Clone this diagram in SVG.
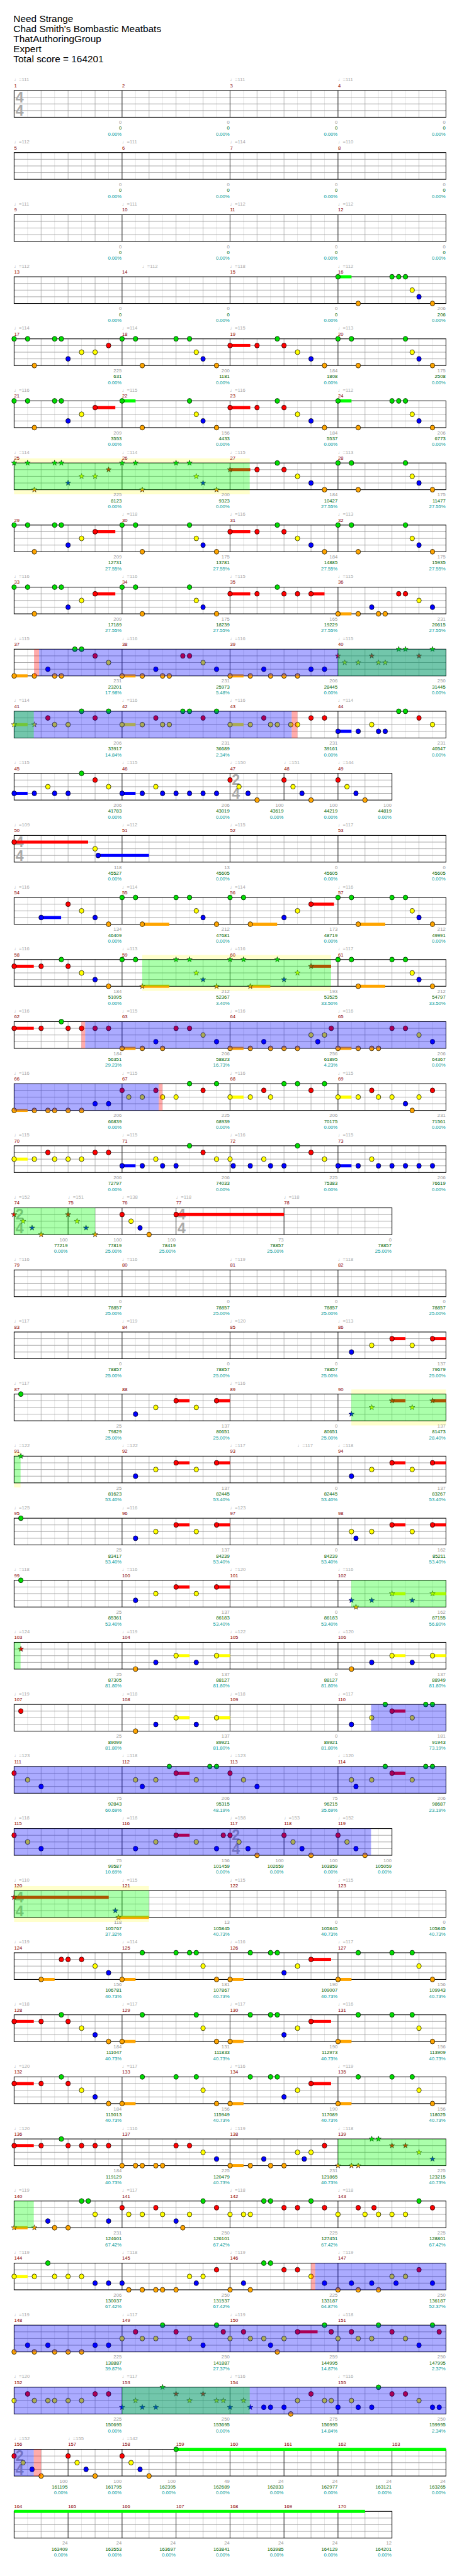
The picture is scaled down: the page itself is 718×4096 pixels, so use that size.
<svg xmlns="http://www.w3.org/2000/svg" width="718" height="4096" viewBox="0 0 718 4096">
<style>
text{font-family:"Liberation Sans",Arial,"DejaVu Sans",sans-serif}
.ti{font-size:22px;fill:#000}
.tp{font-size:11px;fill:#aaa}
.mn{font-size:11px;fill:#8b0000}
.p{font-size:11px;fill:#999;text-anchor:end}
.c{font-size:11px;fill:#006400;text-anchor:end}
.q{font-size:11px;fill:#009999;text-anchor:end}
.ts{font-size:33px;font-weight:bold;fill:#aaa}
.sg{fill:#0f0}.sr{fill:#f00}.sy{fill:#ff0}.sb{fill:#00f}.so{fill:#ffa500}
.ob{fill:#00f;fill-opacity:.33}.og{fill:#0f0;fill-opacity:.33}.op{fill:#f00;fill-opacity:.33}.yb{fill:#ffc}
</style>
<defs>
<ellipse id="G" rx="5.2" ry="5.6" fill="#0d0" stroke="#000"/>
<ellipse id="R" rx="5.2" ry="5.6" fill="#f00" stroke="#000"/>
<ellipse id="Y" rx="5.2" ry="5.6" fill="#ff0" stroke="#000"/>
<ellipse id="B" rx="5.2" ry="5.6" fill="#00f" stroke="#000"/>
<ellipse id="O" rx="5.2" ry="5.6" fill="#ffa500" stroke="#000"/>
<path id="SG" d="M0-6.5L1.53-2.1L6.18-2.01L2.47.8L3.82 5.26L0 2.6L-3.82 5.26L-2.47.8L-6.18-2.01L-1.53-2.1Z" fill="#0d0" stroke="#000" stroke-width=".7"/>
<path id="SR" d="M0-6.5L1.53-2.1L6.18-2.01L2.47.8L3.82 5.26L0 2.6L-3.82 5.26L-2.47.8L-6.18-2.01L-1.53-2.1Z" fill="#f00" stroke="#000" stroke-width=".7"/>
<path id="SY" d="M0-6.5L1.53-2.1L6.18-2.01L2.47.8L3.82 5.26L0 2.6L-3.82 5.26L-2.47.8L-6.18-2.01L-1.53-2.1Z" fill="#ff0" stroke="#000" stroke-width=".7"/>
<path id="SB" d="M0-6.5L1.53-2.1L6.18-2.01L2.47.8L3.82 5.26L0 2.6L-3.82 5.26L-2.47.8L-6.18-2.01L-1.53-2.1Z" fill="#00f" stroke="#000" stroke-width=".7"/>
<path id="SO" d="M0-6.5L1.53-2.1L6.18-2.01L2.47.8L3.82 5.26L0 2.6L-3.82 5.26L-2.47.8L-6.18-2.01L-1.53-2.1Z" fill="#ffa500" stroke="#000" stroke-width=".7"/>
<g id="gr64">
<path d="M62.6 0V60.67M123.9 0V60.67M185.1 0V60.67M246.4 0V60.67M307.6 0V60.67M368.9 0V60.67M430.1 0V60.67M491.4 0V60.67M552.6 0V60.67M613.9 0V60.67M675.1 0V60.67M736.4 0V60.67M797.6 0V60.67M858.9 0V60.67M920.1 0V60.67M981.4 0V60.67" stroke="#ddd"/>
<path d="M93.3 0V60.67M154.5 0V60.67M215.8 0V60.67M277 0V60.67M338.3 0V60.67M399.5 0V60.67M460.8 0V60.67M522 0V60.67M583.3 0V60.67M644.5 0V60.67M705.8 0V60.67M767 0V60.67M828.3 0V60.67M889.5 0V60.67M950.8 0V60.67" stroke="#999"/>
<path d="M32 15.17H1012M32 30.33H1012M32 45.5H1012" stroke="#999" stroke-width="1.2"/>
</g>
<g id="gr56">
<path d="M62.6 0V60.67M123.9 0V60.67M185.1 0V60.67M246.4 0V60.67M307.6 0V60.67M368.9 0V60.67M430.1 0V60.67M491.4 0V60.67M552.6 0V60.67M613.9 0V60.67M675.1 0V60.67M736.4 0V60.67M797.6 0V60.67M858.9 0V60.67" stroke="#ddd"/>
<path d="M93.3 0V60.67M154.5 0V60.67M215.8 0V60.67M277 0V60.67M338.3 0V60.67M399.5 0V60.67M460.8 0V60.67M522 0V60.67M583.3 0V60.67M644.5 0V60.67M705.8 0V60.67M767 0V60.67M828.3 0V60.67" stroke="#999"/>
<path d="M32 15.17H889.5M32 30.33H889.5M32 45.5H889.5" stroke="#999" stroke-width="1.2"/>
</g>
<g id="st4">
<use href="#gr64"/>
<path d="M277 0V60.67M522 0V60.67M767 0V60.67" stroke="#000"/>
<rect x="32" width="980" height="60.67" fill="none" stroke="#000" stroke-width="1.5"/>
</g>
</defs>
<rect width="718" height="4096" fill="#fff"/>
<g transform="scale(0.7)">
<g id="title" class="ti">
<text x="30.5" y="49.5">Need Strange</text>
<text x="30.5" y="72.5">Chad Smith's Bombastic Meatbats</text>
<text x="30.5" y="95.5">ThatAuthoringGroup</text>
<text x="30.5" y="118.5">Expert</text>
<text x="30.5" y="141.5">Total score = 164201</text>
</g>

<g id="row1" transform="translate(0,205.67)">
<use href="#st4"/>
<text class="ts" x="35.5" y="26.5">4</text><text class="ts" x="35.5" y="57.5">4</text>
<text class="tp" x="32" y="-20.7">♩=111</text><text class="tp" x="522" y="-20.7">♩=111</text><text class="tp" x="767" y="-20.7">♩=111</text>
<text class="mn" x="32" y="-7.3">1</text><text class="mn" x="277" y="-7.3">2</text><text class="mn" x="522" y="-7.3">3</text><text class="mn" x="767" y="-7.3">4</text>
<text class="p" x="276" y="76">0</text><text class="c" x="276" y="89.3">0</text><text class="q" x="276" y="102.7">0.00%</text>
<text class="p" x="521" y="76">0</text><text class="c" x="521" y="89.3">0</text><text class="q" x="521" y="102.7">0.00%</text>
<text class="p" x="766" y="76">0</text><text class="c" x="766" y="89.3">0</text><text class="q" x="766" y="102.7">0.00%</text>
<text class="p" x="1011" y="76">0</text><text class="c" x="1011" y="89.3">0</text><text class="q" x="1011" y="102.7">0.00%</text>
</g>

<g id="row2" transform="translate(0,346.67)">
<use href="#st4"/>
<text class="tp" x="32" y="-20.7">♩=112</text><text class="tp" x="277" y="-20.7">♩=111</text><text class="tp" x="522" y="-20.7">♩=114</text><text class="tp" x="767" y="-20.7">♩=110</text>
<text class="mn" x="32" y="-7.3">5</text><text class="mn" x="277" y="-7.3">6</text><text class="mn" x="522" y="-7.3">7</text><text class="mn" x="767" y="-7.3">8</text>
<text class="p" x="276" y="76">0</text><text class="c" x="276" y="89.3">0</text><text class="q" x="276" y="102.7">0.00%</text>
<text class="p" x="521" y="76">0</text><text class="c" x="521" y="89.3">0</text><text class="q" x="521" y="102.7">0.00%</text>
<text class="p" x="766" y="76">0</text><text class="c" x="766" y="89.3">0</text><text class="q" x="766" y="102.7">0.00%</text>
<text class="p" x="1011" y="76">0</text><text class="c" x="1011" y="89.3">0</text><text class="q" x="1011" y="102.7">0.00%</text>
</g>

<g id="row3" transform="translate(0,487.67)">
<use href="#st4"/>
<text class="tp" x="32" y="-20.7">♩=111</text><text class="tp" x="277" y="-20.7">♩=111</text><text class="tp" x="522" y="-20.7">♩=112</text><text class="tp" x="767" y="-20.7">♩=112</text>
<text class="mn" x="32" y="-7.3">9</text><text class="mn" x="277" y="-7.3">10</text><text class="mn" x="522" y="-7.3">11</text><text class="mn" x="767" y="-7.3">12</text>
<text class="p" x="276" y="76">0</text><text class="c" x="276" y="89.3">0</text><text class="q" x="276" y="102.7">0.00%</text>
<text class="p" x="521" y="76">0</text><text class="c" x="521" y="89.3">0</text><text class="q" x="521" y="102.7">0.00%</text>
<text class="p" x="766" y="76">0</text><text class="c" x="766" y="89.3">0</text><text class="q" x="766" y="102.7">0.00%</text>
<text class="p" x="1011" y="76">0</text><text class="c" x="1011" y="89.3">0</text><text class="q" x="1011" y="102.7">0.00%</text>
</g>

<g id="row4" transform="translate(0,628.67)">
<use href="#st4"/>
<text class="tp" x="32" y="-20.7">♩=112</text><text class="tp" x="322.9" y="-20.7">♩=112</text><text class="tp" x="522" y="-20.7">♩=118</text><text class="tp" x="767" y="-20.7">♩=112</text>
<text class="mn" x="32" y="-7.3">13</text><text class="mn" x="277" y="-7.3">14</text><text class="mn" x="522" y="-7.3">15</text><text class="mn" x="767" y="-7.3">16</text>
<text class="p" x="276" y="76">0</text><text class="c" x="276" y="89.3">0</text><text class="q" x="276" y="102.7">0.00%</text>
<text class="p" x="521" y="76">0</text><text class="c" x="521" y="89.3">0</text><text class="q" x="521" y="102.7">0.00%</text>
<text class="p" x="766" y="76">0</text><text class="c" x="766" y="89.3">0</text><text class="q" x="766" y="102.7">0.00%</text>
<text class="p" x="1011" y="76">206</text><text class="c" x="1011" y="89.3">206</text><text class="q" x="1011" y="102.7">0.00%</text>
<g><rect class="sg" x="767" y="-3.5" width="30.6" height="7"/><use href="#G" x="767"/><use href="#G" x="889.5"/><use href="#G" x="904.8"/><use href="#G" x="920.1"/></g>
<g transform="translate(0,30.33)"><use href="#Y" x="935.4"/></g>
<g transform="translate(0,45.5)"><use href="#B" x="950.8"/></g>
<g transform="translate(0,60.67)"><use href="#O" x="812.9"/><use href="#O" x="981.4"/></g>
</g>

<g id="row5" transform="translate(0,769.67)">
<use href="#st4"/>
<text class="tp" x="32" y="-20.7">♩=114</text><text class="tp" x="277" y="-20.7">♩=114</text><text class="tp" x="522" y="-20.7">♩=115</text><text class="tp" x="767" y="-20.7">♩=113</text>
<text class="mn" x="32" y="-7.3">17</text><text class="mn" x="277" y="-7.3">18</text><text class="mn" x="522" y="-7.3">19</text><text class="mn" x="767" y="-7.3">20</text>
<text class="p" x="276" y="76">225</text><text class="c" x="276" y="89.3">631</text><text class="q" x="276" y="102.7">0.00%</text>
<text class="p" x="521" y="76">200</text><text class="c" x="521" y="89.3">1181</text><text class="q" x="521" y="102.7">0.00%</text>
<text class="p" x="766" y="76">184</text><text class="c" x="766" y="89.3">1808</text><text class="q" x="766" y="102.7">0.00%</text>
<text class="p" x="1011" y="76">175</text><text class="c" x="1011" y="89.3">2508</text><text class="q" x="1011" y="102.7">0.00%</text>
<g><use href="#G" x="32"/><use href="#G" x="62.6"/><use href="#G" x="123.9"/><use href="#G" x="139.2"/><use href="#G" x="277"/><use href="#G" x="307.6"/><use href="#G" x="399.5"/><use href="#G" x="430.1"/><use href="#G" x="629.2"/><use href="#G" x="767"/><use href="#G" x="797.6"/><use href="#G" x="920.1"/></g>
<g transform="translate(0,15.17)"><rect class="sr" x="522" y="-3.5" width="45.9" height="7"/><use href="#R" x="246.4"/><use href="#R" x="522"/><use href="#R" x="583.3"/><use href="#R" x="644.5"/></g>
<g transform="translate(0,30.33)"><use href="#Y" x="185.1"/><use href="#Y" x="215.8"/><use href="#Y" x="445.4"/><use href="#Y" x="675.1"/><use href="#Y" x="935.4"/></g>
<g transform="translate(0,45.5)"><use href="#B" x="154.5"/><use href="#B" x="460.8"/><use href="#B" x="705.8"/><use href="#B" x="950.8"/></g>
<g transform="translate(0,60.67)"><use href="#O" x="77.9"/><use href="#O" x="322.9"/><use href="#O" x="491.4"/><use href="#O" x="736.4"/><use href="#O" x="812.9"/><use href="#O" x="981.4"/></g>
</g>

<g id="row6" transform="translate(0,910.67)">
<use href="#st4"/>
<text class="tp" x="32" y="-20.7">♩=116</text><text class="tp" x="277" y="-20.7">♩=115</text><text class="tp" x="522" y="-20.7">♩=116</text><text class="tp" x="767" y="-20.7">♩=112</text>
<text class="mn" x="32" y="-7.3">21</text><text class="mn" x="277" y="-7.3">22</text><text class="mn" x="522" y="-7.3">23</text><text class="mn" x="767" y="-7.3">24</text>
<text class="p" x="276" y="76">209</text><text class="c" x="276" y="89.3">3553</text><text class="q" x="276" y="102.7">0.00%</text>
<text class="p" x="521" y="76">156</text><text class="c" x="521" y="89.3">4433</text><text class="q" x="521" y="102.7">0.00%</text>
<text class="p" x="766" y="76">184</text><text class="c" x="766" y="89.3">5537</text><text class="q" x="766" y="102.7">0.00%</text>
<text class="p" x="1011" y="76">206</text><text class="c" x="1011" y="89.3">6773</text><text class="q" x="1011" y="102.7">0.00%</text>
<g><rect class="sg" x="277" y="-3.5" width="30.6" height="7"/><rect class="sg" x="767" y="-3.5" width="30.6" height="7"/><use href="#G" x="32"/><use href="#G" x="62.6"/><use href="#G" x="123.9"/><use href="#G" x="139.2"/><use href="#G" x="277"/><use href="#G" x="430.1"/><use href="#G" x="629.2"/><use href="#G" x="767"/><use href="#G" x="889.5"/><use href="#G" x="904.8"/><use href="#G" x="920.1"/></g>
<g transform="translate(0,15.17)"><rect class="sr" x="215.8" y="-3.5" width="45.9" height="7"/><rect class="sr" x="522" y="-3.5" width="45.9" height="7"/><use href="#R" x="215.8"/><use href="#R" x="522"/><use href="#R" x="583.3"/><use href="#R" x="644.5"/></g>
<g transform="translate(0,30.33)"><use href="#Y" x="185.1"/><use href="#Y" x="445.4"/><use href="#Y" x="675.1"/><use href="#Y" x="935.4"/></g>
<g transform="translate(0,45.5)"><use href="#B" x="154.5"/><use href="#B" x="460.8"/><use href="#B" x="705.8"/><use href="#B" x="950.8"/></g>
<g transform="translate(0,60.67)"><use href="#O" x="77.9"/><use href="#O" x="322.9"/><use href="#O" x="491.4"/><use href="#O" x="736.4"/><use href="#O" x="812.9"/><use href="#O" x="981.4"/></g>
</g>

<g id="row7" transform="translate(0,1051.67)">
<rect class="yb" x="32" y="-10.5" width="534.7" height="10.5"/><rect class="yb" x="32" y="60.67" width="534.7" height="10.5"/>
<use href="#st4"/>
<text class="tp" x="32" y="-20.7">♩=114</text><text class="tp" x="277" y="-20.7">♩=114</text><text class="tp" x="522" y="-20.7">♩=115</text><text class="tp" x="767" y="-20.7">♩=113</text>
<text class="mn" x="32" y="-7.3">25</text><text class="mn" x="277" y="-7.3">26</text><text class="mn" x="522" y="-7.3">27</text><text class="mn" x="767" y="-7.3">28</text>
<text class="p" x="276" y="76">225</text><text class="c" x="276" y="89.3">8123</text><text class="q" x="276" y="102.7">0.00%</text>
<text class="p" x="521" y="76">200</text><text class="c" x="521" y="89.3">9323</text><text class="q" x="521" y="102.7">0.00%</text>
<text class="p" x="766" y="76">184</text><text class="c" x="766" y="89.3">10427</text><text class="q" x="766" y="102.7">27.55%</text>
<text class="p" x="1011" y="76">175</text><text class="c" x="1011" y="89.3">11477</text><text class="q" x="1011" y="102.7">27.55%</text>
<g><use href="#SG" x="32"/><use href="#SG" x="62.6"/><use href="#SG" x="123.9"/><use href="#SG" x="139.2"/><use href="#SG" x="277"/><use href="#SG" x="307.6"/><use href="#SG" x="399.5"/><use href="#SG" x="430.1"/><use href="#G" x="629.2"/><use href="#G" x="767"/><use href="#G" x="797.6"/><use href="#G" x="920.1"/></g>
<g transform="translate(0,15.17)"><rect class="sr" x="522" y="-3.5" width="45.9" height="7"/><use href="#SR" x="246.4"/><use href="#SR" x="522"/><use href="#R" x="583.3"/><use href="#R" x="644.5"/></g>
<g transform="translate(0,30.33)"><use href="#SY" x="185.1"/><use href="#SY" x="215.8"/><use href="#SY" x="445.4"/><use href="#Y" x="675.1"/><use href="#Y" x="935.4"/></g>
<g transform="translate(0,45.5)"><use href="#SB" x="154.5"/><use href="#SB" x="460.8"/><use href="#B" x="705.8"/><use href="#B" x="950.8"/></g>
<g transform="translate(0,60.67)"><use href="#SO" x="77.9"/><use href="#SO" x="322.9"/><use href="#SO" x="491.4"/><use href="#O" x="736.4"/><use href="#O" x="812.9"/><use href="#O" x="981.4"/></g>
<rect class="og" x="32" y="0" width="534.7" height="60.67"/>
</g>

<g id="row8" transform="translate(0,1192.67)">
<use href="#st4"/>
<text class="tp" x="277" y="-20.7">♩=118</text><text class="tp" x="522" y="-20.7">♩=116</text><text class="tp" x="767" y="-20.7">♩=113</text>
<text class="mn" x="32" y="-7.3">29</text><text class="mn" x="277" y="-7.3">30</text><text class="mn" x="522" y="-7.3">31</text><text class="mn" x="767" y="-7.3">32</text>
<text class="p" x="276" y="76">209</text><text class="c" x="276" y="89.3">12731</text><text class="q" x="276" y="102.7">27.55%</text>
<text class="p" x="521" y="76">175</text><text class="c" x="521" y="89.3">13781</text><text class="q" x="521" y="102.7">27.55%</text>
<text class="p" x="766" y="76">184</text><text class="c" x="766" y="89.3">14885</text><text class="q" x="766" y="102.7">27.55%</text>
<text class="p" x="1011" y="76">175</text><text class="c" x="1011" y="89.3">15935</text><text class="q" x="1011" y="102.7">27.55%</text>
<g><use href="#G" x="32"/><use href="#G" x="62.6"/><use href="#G" x="123.9"/><use href="#G" x="139.2"/><use href="#G" x="277"/><use href="#G" x="307.6"/><use href="#G" x="430.1"/><use href="#G" x="629.2"/><use href="#G" x="767"/><use href="#G" x="797.6"/><use href="#G" x="920.1"/></g>
<g transform="translate(0,15.17)"><rect class="sr" x="215.8" y="-3.5" width="45.9" height="7"/><rect class="sr" x="522" y="-3.5" width="45.9" height="7"/><use href="#R" x="215.8"/><use href="#R" x="522"/><use href="#R" x="583.3"/><use href="#R" x="644.5"/></g>
<g transform="translate(0,30.33)"><use href="#Y" x="185.1"/><use href="#Y" x="445.4"/><use href="#Y" x="675.1"/><use href="#Y" x="935.4"/></g>
<g transform="translate(0,45.5)"><use href="#B" x="154.5"/><use href="#B" x="460.8"/><use href="#B" x="705.8"/><use href="#B" x="950.8"/></g>
<g transform="translate(0,60.67)"><use href="#O" x="77.9"/><use href="#O" x="322.9"/><use href="#O" x="491.4"/><use href="#O" x="736.4"/><use href="#O" x="812.9"/><use href="#O" x="981.4"/></g>
</g>

<g id="row9" transform="translate(0,1333.67)">
<use href="#st4"/>
<text class="tp" x="32" y="-20.7">♩=116</text><text class="tp" x="277" y="-20.7">♩=116</text><text class="tp" x="522" y="-20.7">♩=115</text><text class="tp" x="767" y="-20.7">♩=115</text>
<text class="mn" x="32" y="-7.3">33</text><text class="mn" x="277" y="-7.3">34</text><text class="mn" x="522" y="-7.3">35</text><text class="mn" x="767" y="-7.3">36</text>
<text class="p" x="276" y="76">209</text><text class="c" x="276" y="89.3">17189</text><text class="q" x="276" y="102.7">27.55%</text>
<text class="p" x="521" y="76">175</text><text class="c" x="521" y="89.3">18239</text><text class="q" x="521" y="102.7">27.55%</text>
<text class="p" x="766" y="76">165</text><text class="c" x="766" y="89.3">19229</text><text class="q" x="766" y="102.7">27.55%</text>
<text class="p" x="1011" y="76">231</text><text class="c" x="1011" y="89.3">20615</text><text class="q" x="1011" y="102.7">27.55%</text>
<g><use href="#G" x="32"/><use href="#G" x="62.6"/><use href="#G" x="123.9"/><use href="#G" x="139.2"/><use href="#G" x="277"/><use href="#G" x="307.6"/><use href="#G" x="430.1"/><use href="#G" x="629.2"/></g>
<g transform="translate(0,15.17)"><rect class="sr" x="215.8" y="-3.5" width="45.9" height="7"/><rect class="sr" x="522" y="-3.5" width="45.9" height="7"/><rect class="sr" x="705.8" y="-3.5" width="30.6" height="7"/><use href="#R" x="215.8"/><use href="#R" x="522"/><use href="#R" x="583.3"/><use href="#R" x="644.5"/><use href="#R" x="675.1"/><use href="#R" x="705.8"/><use href="#R" x="904.8"/><use href="#R" x="920.1"/></g>
<g transform="translate(0,30.33)"><use href="#Y" x="185.1"/><use href="#Y" x="445.4"/><use href="#Y" x="950.8"/></g>
<g transform="translate(0,45.5)"><use href="#B" x="154.5"/><use href="#B" x="460.8"/><use href="#B" x="843.6"/><use href="#B" x="981.4"/></g>
<g transform="translate(0,60.67)"><rect class="so" x="767" y="-3.5" width="30.6" height="7"/><use href="#O" x="77.9"/><use href="#O" x="322.9"/><use href="#O" x="491.4"/><use href="#O" x="767"/><use href="#O" x="812.9"/><use href="#O" x="858.9"/><use href="#O" x="874.2"/></g>
</g>

<g id="row10" transform="translate(0,1474.67)">
<use href="#st4"/>
<text class="tp" x="32" y="-20.7">♩=115</text><text class="tp" x="277" y="-20.7">♩=116</text><text class="tp" x="522" y="-20.7">♩=116</text><text class="tp" x="767" y="-20.7">♩=115</text>
<text class="mn" x="32" y="-7.3">37</text><text class="mn" x="277" y="-7.3">38</text><text class="mn" x="522" y="-7.3">39</text><text class="mn" x="767" y="-7.3">40</text>
<text class="p" x="276" y="76">231</text><text class="c" x="276" y="89.3">23201</text><text class="q" x="276" y="102.7">17.98%</text>
<text class="p" x="521" y="76">231</text><text class="c" x="521" y="89.3">25973</text><text class="q" x="521" y="102.7">5.48%</text>
<text class="p" x="766" y="76">206</text><text class="c" x="766" y="89.3">28445</text><text class="q" x="766" y="102.7">0.00%</text>
<text class="p" x="1011" y="76">250</text><text class="c" x="1011" y="89.3">31445</text><text class="q" x="1011" y="102.7">0.00%</text>
<g><use href="#G" x="169.8"/><use href="#G" x="185.1"/><use href="#SG" x="904.8"/><use href="#SG" x="920.1"/><use href="#SG" x="981.4"/></g>
<g transform="translate(0,15.17)"><use href="#R" x="215.8"/><use href="#R" x="414.8"/><use href="#R" x="430.1"/><use href="#SR" x="767"/><use href="#SR" x="843.6"/><use href="#SR" x="950.8"/></g>
<g transform="translate(0,30.33)"><use href="#Y" x="246.4"/><use href="#Y" x="460.8"/><use href="#SY" x="782.3"/><use href="#SY" x="812.9"/><use href="#SY" x="858.9"/><use href="#SY" x="874.2"/></g>
<g transform="translate(0,45.5)"><use href="#B" x="108.6"/><use href="#B" x="353.6"/><use href="#B" x="491.4"/><use href="#B" x="598.6"/><use href="#B" x="705.8"/><use href="#B" x="736.4"/></g>
<g transform="translate(0,60.67)"><rect class="so" x="32" y="-3.5" width="30.6" height="7"/><rect class="so" x="277" y="-3.5" width="30.6" height="7"/><rect class="so" x="522" y="-3.5" width="30.6" height="7"/><use href="#O" x="32"/><use href="#O" x="77.9"/><use href="#O" x="123.9"/><use href="#O" x="139.2"/><use href="#O" x="277"/><use href="#O" x="322.9"/><use href="#O" x="368.9"/><use href="#O" x="384.2"/><use href="#O" x="522"/><use href="#O" x="567.9"/><use href="#O" x="613.9"/><use href="#O" x="644.5"/><use href="#O" x="675.1"/></g>
<rect class="op" x="77.3" y="0" width="11.4" height="60.67"/>
<rect class="ob" x="88.7" y="0" width="923.3" height="60.67"/>
<rect class="og" x="767" y="0" width="245" height="60.67"/>
</g>

<g id="row11" transform="translate(0,1615.67)">
<use href="#st4"/>
<text class="tp" x="32" y="-20.7">♩=114</text><text class="tp" x="277" y="-20.7">♩=116</text><text class="tp" x="522" y="-20.7">♩=116</text><text class="tp" x="767" y="-20.7">♩=114</text>
<text class="mn" x="32" y="-7.3">41</text><text class="mn" x="277" y="-7.3">42</text><text class="mn" x="522" y="-7.3">43</text><text class="mn" x="767" y="-7.3">44</text>
<text class="p" x="276" y="76">206</text><text class="c" x="276" y="89.3">33917</text><text class="q" x="276" y="102.7">14.84%</text>
<text class="p" x="521" y="76">231</text><text class="c" x="521" y="89.3">36689</text><text class="q" x="521" y="102.7">2.34%</text>
<text class="p" x="766" y="76">231</text><text class="c" x="766" y="89.3">39161</text><text class="q" x="766" y="102.7">0.00%</text>
<text class="p" x="1011" y="76">231</text><text class="c" x="1011" y="89.3">40547</text><text class="q" x="1011" y="102.7">0.00%</text>
<g><use href="#G" x="185.1"/><use href="#G" x="246.4"/><use href="#G" x="414.8"/><use href="#G" x="430.1"/><use href="#G" x="491.4"/><use href="#G" x="904.8"/><use href="#G" x="920.1"/></g>
<g transform="translate(0,15.17)"><use href="#R" x="108.6"/><use href="#R" x="215.8"/><use href="#R" x="353.6"/><use href="#R" x="460.8"/><use href="#R" x="598.6"/><use href="#R" x="705.8"/><use href="#R" x="736.4"/><use href="#R" x="950.8"/></g>
<g transform="translate(0,30.33)"><rect class="sy" x="32" y="-3.5" width="30.6" height="7"/><rect class="sy" x="277" y="-3.5" width="30.6" height="7"/><rect class="sy" x="522" y="-3.5" width="30.6" height="7"/><use href="#SY" x="32"/><use href="#SY" x="77.9"/><use href="#Y" x="123.9"/><use href="#Y" x="154.5"/><use href="#Y" x="277"/><use href="#Y" x="322.9"/><use href="#Y" x="368.9"/><use href="#Y" x="384.2"/><use href="#Y" x="522"/><use href="#Y" x="567.9"/><use href="#Y" x="613.9"/><use href="#Y" x="629.2"/><use href="#Y" x="659.8"/><use href="#Y" x="675.1"/><use href="#Y" x="843.6"/><use href="#Y" x="981.4"/></g>
<g transform="translate(0,45.5)"><rect class="sb" x="767" y="-3.5" width="30.6" height="7"/><use href="#B" x="767"/><use href="#B" x="812.9"/><use href="#B" x="858.9"/><use href="#B" x="874.2"/></g>
<rect class="ob" x="32" y="0" width="630" height="60.67"/>
<rect class="op" x="662" y="0" width="13" height="60.67"/>
<rect class="og" x="32" y="0" width="44.7" height="60.67"/>
</g>

<g id="row12" transform="translate(0,1756.67)">
<use href="#gr56"/>
<path d="M277 0V60.67M522 0V60.67M644.5 0V60.67M767 0V60.67" stroke="#000"/>
<rect x="32" width="857.5" height="60.67" fill="none" stroke="#000" stroke-width="1.5"/>
<text class="ts" x="526" y="26.5">2</text><text class="ts" x="526" y="57.5">4</text>
<text class="tp" x="32" y="-20.7">♩=115</text><text class="tp" x="277" y="-20.7">♩=115</text><text class="tp" x="522" y="-20.7">♩=150</text><text class="tp" x="644.5" y="-20.7">♩=151</text><text class="tp" x="767" y="-20.7">♩=144</text>
<text class="mn" x="32" y="-7.3">45</text><text class="mn" x="277" y="-7.3">46</text><text class="mn" x="522" y="-7.3">47</text><text class="mn" x="644.5" y="-7.3">48</text><text class="mn" x="767" y="-7.3">49</text>
<text class="p" x="276" y="76">206</text><text class="c" x="276" y="89.3">41783</text><text class="q" x="276" y="102.7">0.00%</text>
<text class="p" x="521" y="76">206</text><text class="c" x="521" y="89.3">43019</text><text class="q" x="521" y="102.7">0.00%</text>
<text class="p" x="643.5" y="76">100</text><text class="c" x="643.5" y="89.3">43619</text><text class="q" x="643.5" y="102.7">0.00%</text>
<text class="p" x="766" y="76">100</text><text class="c" x="766" y="89.3">44219</text><text class="q" x="766" y="102.7">0.00%</text>
<text class="p" x="888.5" y="76">100</text><text class="c" x="888.5" y="89.3">44819</text><text class="q" x="888.5" y="102.7">0.00%</text>
<g><use href="#G" x="185.1"/></g>
<g transform="translate(0,15.17)"><use href="#R" x="215.8"/><use href="#R" x="522"/><use href="#R" x="644.5"/><use href="#R" x="767"/></g>
<g transform="translate(0,30.33)"><use href="#Y" x="108.6"/><use href="#Y" x="246.4"/><use href="#Y" x="353.6"/><use href="#Y" x="542.4"/><use href="#Y" x="664.9"/><use href="#Y" x="787.4"/></g>
<g transform="translate(0,45.5)"><rect class="sb" x="32" y="-3.5" width="30.6" height="7"/><rect class="sb" x="277" y="-3.5" width="30.6" height="7"/><use href="#B" x="32"/><use href="#B" x="77.9"/><use href="#B" x="123.9"/><use href="#B" x="154.5"/><use href="#B" x="277"/><use href="#B" x="322.9"/><use href="#B" x="368.9"/><use href="#B" x="399.5"/><use href="#B" x="430.1"/><use href="#B" x="460.8"/><use href="#B" x="491.4"/><use href="#B" x="562.8"/><use href="#B" x="685.3"/><use href="#B" x="807.8"/></g>
<g transform="translate(0,60.67)"><use href="#O" x="583.3"/><use href="#O" x="705.8"/><use href="#O" x="828.3"/></g>
</g>

<g id="row13" transform="translate(0,1897.67)">
<use href="#st4"/>
<text class="ts" x="35.5" y="26.5">4</text><text class="ts" x="35.5" y="57.5">4</text>
<text class="tp" x="32" y="-20.7">♩=109</text><text class="tp" x="277" y="-20.7">♩=112</text><text class="tp" x="522" y="-20.7">♩=115</text><text class="tp" x="767" y="-20.7">♩=117</text>
<text class="mn" x="32" y="-7.3">50</text><text class="mn" x="277" y="-7.3">51</text><text class="mn" x="522" y="-7.3">52</text><text class="mn" x="767" y="-7.3">53</text>
<text class="p" x="276" y="76">118</text><text class="c" x="276" y="89.3">45527</text><text class="q" x="276" y="102.7">0.00%</text>
<text class="p" x="521" y="76">13</text><text class="c" x="521" y="89.3">45605</text><text class="q" x="521" y="102.7">0.00%</text>
<text class="p" x="766" y="76">0</text><text class="c" x="766" y="89.3">45605</text><text class="q" x="766" y="102.7">0.00%</text>
<text class="p" x="1011" y="76">0</text><text class="c" x="1011" y="89.3">45605</text><text class="q" x="1011" y="102.7">0.00%</text>
<g transform="translate(0,15.17)"><rect class="sr" x="32" y="-3.5" width="168" height="7"/><use href="#R" x="32"/></g>
<g transform="translate(0,30.33)"><use href="#Y" x="215.8"/></g>
<g transform="translate(0,45.5)"><rect class="sb" x="222.7" y="-3.5" width="115.3" height="7"/><use href="#B" x="222.7"/></g>
</g>

<g id="row14" transform="translate(0,2038.67)">
<use href="#st4"/>
<text class="tp" x="32" y="-20.7">♩=116</text><text class="tp" x="277" y="-20.7">♩=114</text><text class="tp" x="522" y="-20.7">♩=114</text><text class="tp" x="767" y="-20.7">♩=116</text>
<text class="mn" x="32" y="-7.3">54</text><text class="mn" x="277" y="-7.3">55</text><text class="mn" x="522" y="-7.3">56</text><text class="mn" x="767" y="-7.3">57</text>
<text class="p" x="276" y="76">134</text><text class="c" x="276" y="89.3">46409</text><text class="q" x="276" y="102.7">0.00%</text>
<text class="p" x="521" y="76">212</text><text class="c" x="521" y="89.3">47681</text><text class="q" x="521" y="102.7">0.00%</text>
<text class="p" x="766" y="76">173</text><text class="c" x="766" y="89.3">48719</text><text class="q" x="766" y="102.7">0.00%</text>
<text class="p" x="1011" y="76">212</text><text class="c" x="1011" y="89.3">49991</text><text class="q" x="1011" y="102.7">0.00%</text>
<g><use href="#G" x="277"/><use href="#G" x="307.6"/><use href="#G" x="399.5"/><use href="#G" x="430.1"/><use href="#G" x="522"/><use href="#G" x="552.6"/><use href="#G" x="767"/><use href="#G" x="797.6"/><use href="#G" x="889.5"/><use href="#G" x="920.1"/></g>
<g transform="translate(0,15.17)"><rect class="sr" x="705.8" y="-3.5" width="52.2" height="7"/><use href="#R" x="154.5"/><use href="#R" x="705.8"/></g>
<g transform="translate(0,30.33)"><use href="#Y" x="185.1"/><use href="#Y" x="445.4"/><use href="#Y" x="675.1"/><use href="#Y" x="935.4"/></g>
<g transform="translate(0,45.5)"><rect class="sb" x="93.3" y="-3.5" width="45.4" height="7"/><use href="#B" x="93.3"/><use href="#B" x="215.8"/><use href="#B" x="460.8"/><use href="#B" x="644.5"/><use href="#B" x="950.8"/></g>
<g transform="translate(0,60.67)"><rect class="so" x="322.9" y="-3.5" width="61.3" height="7"/><rect class="so" x="567.9" y="-3.5" width="61" height="7"/><rect class="so" x="812.9" y="-3.5" width="61.3" height="7"/><use href="#O" x="246.4"/><use href="#O" x="322.9"/><use href="#O" x="491.4"/><use href="#O" x="567.9"/><use href="#O" x="812.9"/><use href="#O" x="981.4"/></g>
</g>

<g id="row15" transform="translate(0,2179.67)">
<rect class="yb" x="322.7" y="-10.5" width="428.6" height="10.5"/><rect class="yb" x="322.7" y="60.67" width="428.6" height="10.5"/>
<use href="#st4"/>
<text class="tp" x="32" y="-20.7">♩=116</text><text class="tp" x="277" y="-20.7">♩=113</text><text class="tp" x="522" y="-20.7">♩=116</text><text class="tp" x="767" y="-20.7">♩=117</text>
<text class="mn" x="32" y="-7.3">58</text><text class="mn" x="277" y="-7.3">59</text><text class="mn" x="522" y="-7.3">60</text><text class="mn" x="767" y="-7.3">61</text>
<text class="p" x="276" y="76">184</text><text class="c" x="276" y="89.3">51095</text><text class="q" x="276" y="102.7">0.00%</text>
<text class="p" x="521" y="76">212</text><text class="c" x="521" y="89.3">52367</text><text class="q" x="521" y="102.7">3.40%</text>
<text class="p" x="766" y="76">193</text><text class="c" x="766" y="89.3">53525</text><text class="q" x="766" y="102.7">33.50%</text>
<text class="p" x="1011" y="76">212</text><text class="c" x="1011" y="89.3">54797</text><text class="q" x="1011" y="102.7">33.50%</text>
<g><use href="#G" x="139.2"/><use href="#G" x="277"/><use href="#G" x="307.6"/><use href="#SG" x="399.5"/><use href="#SG" x="430.1"/><use href="#SG" x="522"/><use href="#SG" x="552.6"/><use href="#SG" x="629.2"/><use href="#G" x="767"/><use href="#G" x="797.6"/><use href="#G" x="889.5"/><use href="#G" x="920.1"/></g>
<g transform="translate(0,15.17)"><rect class="sr" x="32" y="-3.5" width="44.7" height="7"/><rect class="sr" x="705.8" y="-3.5" width="45.5" height="7"/><use href="#R" x="32"/><use href="#R" x="93.3"/><use href="#R" x="154.5"/><use href="#SR" x="705.8"/></g>
<g transform="translate(0,30.33)"><use href="#Y" x="185.1"/><use href="#SY" x="445.4"/><use href="#SY" x="675.1"/><use href="#Y" x="935.4"/></g>
<g transform="translate(0,45.5)"><use href="#B" x="215.8"/><use href="#SB" x="460.8"/><use href="#SB" x="644.5"/><use href="#B" x="950.8"/></g>
<g transform="translate(0,60.67)"><rect class="so" x="322.9" y="-3.5" width="61.3" height="7"/><rect class="so" x="567.9" y="-3.5" width="45.4" height="7"/><rect class="so" x="812.9" y="-3.5" width="61.3" height="7"/><use href="#O" x="246.4"/><use href="#SO" x="322.9"/><use href="#SO" x="491.4"/><use href="#SO" x="567.9"/><use href="#O" x="812.9"/><use href="#O" x="981.4"/></g>
<rect class="og" x="322.7" y="0" width="428.6" height="60.67"/>
</g>

<g id="row16" transform="translate(0,2320.67)">
<use href="#st4"/>
<text class="tp" x="32" y="-20.7">♩=116</text><text class="tp" x="277" y="-20.7">♩=115</text><text class="tp" x="522" y="-20.7">♩=116</text><text class="tp" x="767" y="-20.7">♩=116</text>
<text class="mn" x="32" y="-7.3">62</text><text class="mn" x="277" y="-7.3">63</text><text class="mn" x="522" y="-7.3">64</text><text class="mn" x="767" y="-7.3">65</text>
<text class="p" x="276" y="76">184</text><text class="c" x="276" y="89.3">56351</text><text class="q" x="276" y="102.7">29.23%</text>
<text class="p" x="521" y="76">206</text><text class="c" x="521" y="89.3">58823</text><text class="q" x="521" y="102.7">16.73%</text>
<text class="p" x="766" y="76">256</text><text class="c" x="766" y="89.3">61895</text><text class="q" x="766" y="102.7">4.23%</text>
<text class="p" x="1011" y="76">206</text><text class="c" x="1011" y="89.3">64367</text><text class="q" x="1011" y="102.7">0.00%</text>
<g><use href="#G" x="139.2"/></g>
<g transform="translate(0,15.17)"><rect class="sr" x="32" y="-3.5" width="44.7" height="7"/><use href="#R" x="32"/><use href="#R" x="93.3"/><use href="#R" x="154.5"/><use href="#R" x="185.1"/><use href="#R" x="215.8"/><use href="#R" x="246.4"/><use href="#R" x="399.5"/><use href="#R" x="430.1"/><use href="#R" x="751.7"/><use href="#R" x="889.5"/><use href="#R" x="920.1"/></g>
<g transform="translate(0,30.33)"><use href="#Y" x="460.8"/><use href="#Y" x="705.8"/><use href="#Y" x="736.4"/><use href="#Y" x="950.8"/></g>
<g transform="translate(0,45.5)"><use href="#B" x="353.6"/><use href="#B" x="491.4"/><use href="#B" x="598.6"/><use href="#B" x="721.1"/><use href="#B" x="981.4"/></g>
<g transform="translate(0,60.67)"><rect class="so" x="277" y="-3.5" width="30.6" height="7"/><rect class="so" x="522" y="-3.5" width="30.6" height="7"/><rect class="so" x="767" y="-3.5" width="30.6" height="7"/><use href="#O" x="277"/><use href="#O" x="322.9"/><use href="#O" x="368.9"/><use href="#O" x="522"/><use href="#O" x="567.9"/><use href="#O" x="613.9"/><use href="#O" x="644.5"/><use href="#O" x="675.1"/><use href="#O" x="767"/><use href="#O" x="812.9"/><use href="#O" x="843.6"/><use href="#O" x="858.9"/></g>
<rect class="op" x="184.7" y="0" width="8.6" height="60.67"/>
<rect class="ob" x="193.3" y="0" width="818.7" height="60.67"/>
</g>

<g id="row17" transform="translate(0,2461.67)">
<use href="#st4"/>
<text class="tp" x="32" y="-20.7">♩=116</text><text class="tp" x="277" y="-20.7">♩=115</text><text class="tp" x="522" y="-20.7">♩=116</text><text class="tp" x="767" y="-20.7">♩=115</text>
<text class="mn" x="32" y="-7.3">66</text><text class="mn" x="277" y="-7.3">67</text><text class="mn" x="522" y="-7.3">68</text><text class="mn" x="767" y="-7.3">69</text>
<text class="p" x="276" y="76">206</text><text class="c" x="276" y="89.3">66839</text><text class="q" x="276" y="102.7">0.00%</text>
<text class="p" x="521" y="76">225</text><text class="c" x="521" y="89.3">68939</text><text class="q" x="521" y="102.7">0.00%</text>
<text class="p" x="766" y="76">206</text><text class="c" x="766" y="89.3">70175</text><text class="q" x="766" y="102.7">0.00%</text>
<text class="p" x="1011" y="76">231</text><text class="c" x="1011" y="89.3">71561</text><text class="q" x="1011" y="102.7">0.00%</text>
<g><use href="#G" x="430.1"/><use href="#G" x="491.4"/><use href="#G" x="644.5"/><use href="#G" x="675.1"/><use href="#G" x="736.4"/></g>
<g transform="translate(0,15.17)"><use href="#R" x="277"/><use href="#R" x="353.6"/><use href="#R" x="460.8"/><use href="#R" x="598.6"/><use href="#R" x="705.8"/><use href="#R" x="843.6"/><use href="#R" x="981.4"/></g>
<g transform="translate(0,30.33)"><rect class="sy" x="522" y="-3.5" width="30.6" height="7"/><rect class="sy" x="767" y="-3.5" width="30.6" height="7"/><use href="#Y" x="292.3"/><use href="#Y" x="322.9"/><use href="#Y" x="368.9"/><use href="#Y" x="399.5"/><use href="#Y" x="522"/><use href="#Y" x="567.9"/><use href="#Y" x="613.9"/><use href="#Y" x="767"/><use href="#Y" x="812.9"/><use href="#Y" x="858.9"/><use href="#Y" x="889.5"/><use href="#Y" x="950.8"/></g>
<g transform="translate(0,45.5)"><use href="#B" x="215.8"/><use href="#B" x="246.4"/><use href="#B" x="920.1"/></g>
<g transform="translate(0,60.67)"><rect class="so" x="32" y="-3.5" width="30.6" height="7"/><use href="#O" x="32"/><use href="#O" x="77.9"/><use href="#O" x="108.6"/><use href="#O" x="123.9"/><use href="#O" x="154.5"/><use href="#O" x="185.1"/><use href="#O" x="935.4"/></g>
<rect class="ob" x="32" y="0" width="328" height="60.67"/>
<rect class="op" x="360" y="0" width="8.7" height="60.67"/>
</g>

<g id="row18" transform="translate(0,2602.67)">
<use href="#st4"/>
<text class="tp" x="32" y="-20.7">♩=115</text><text class="tp" x="277" y="-20.7">♩=115</text><text class="tp" x="522" y="-20.7">♩=116</text><text class="tp" x="767" y="-20.7">♩=115</text>
<text class="mn" x="32" y="-7.3">70</text><text class="mn" x="277" y="-7.3">71</text><text class="mn" x="522" y="-7.3">72</text><text class="mn" x="767" y="-7.3">73</text>
<text class="p" x="276" y="76">206</text><text class="c" x="276" y="89.3">72797</text><text class="q" x="276" y="102.7">0.00%</text>
<text class="p" x="521" y="76">206</text><text class="c" x="521" y="89.3">74033</text><text class="q" x="521" y="102.7">0.00%</text>
<text class="p" x="766" y="76">225</text><text class="c" x="766" y="89.3">75383</text><text class="q" x="766" y="102.7">0.00%</text>
<text class="p" x="1011" y="76">206</text><text class="c" x="1011" y="89.3">76619</text><text class="q" x="1011" y="102.7">0.00%</text>
<g><use href="#G" x="430.1"/><use href="#G" x="675.1"/></g>
<g transform="translate(0,15.17)"><use href="#R" x="108.6"/><use href="#R" x="215.8"/><use href="#R" x="246.4"/><use href="#R" x="460.8"/><use href="#R" x="705.8"/></g>
<g transform="translate(0,30.33)"><rect class="sy" x="32" y="-3.5" width="30.6" height="7"/><use href="#Y" x="32"/><use href="#Y" x="77.9"/><use href="#Y" x="123.9"/><use href="#Y" x="154.5"/><use href="#Y" x="185.1"/><use href="#Y" x="353.6"/><use href="#Y" x="491.4"/><use href="#Y" x="522"/><use href="#Y" x="598.6"/><use href="#Y" x="736.4"/><use href="#Y" x="843.6"/></g>
<g transform="translate(0,45.5)"><rect class="sb" x="277" y="-3.5" width="30.6" height="7"/><rect class="sb" x="767" y="-3.5" width="30.6" height="7"/><use href="#B" x="277"/><use href="#B" x="322.9"/><use href="#B" x="368.9"/><use href="#B" x="399.5"/><use href="#B" x="529.3"/><use href="#B" x="567.9"/><use href="#B" x="613.9"/><use href="#B" x="644.5"/><use href="#B" x="767"/><use href="#B" x="812.9"/><use href="#B" x="858.9"/><use href="#B" x="889.5"/><use href="#B" x="920.1"/><use href="#B" x="950.8"/><use href="#B" x="981.4"/></g>
</g>

<g id="row19" transform="translate(0,2743.67)">
<use href="#gr56"/>
<path d="M154.5 0V60.67M277 0V60.67M399.5 0V60.67M644.5 0V60.67" stroke="#000"/>
<rect x="32" width="857.5" height="60.67" fill="none" stroke="#000" stroke-width="1.5"/>
<text class="ts" x="35.5" y="26.5">2</text><text class="ts" x="35.5" y="57.5">4</text>
<text class="ts" x="403" y="26.5">4</text><text class="ts" x="403" y="57.5">4</text>
<text class="tp" x="32" y="-20.7">♩=152</text><text class="tp" x="154.5" y="-20.7">♩=151</text><text class="tp" x="277" y="-20.7">♩=138</text><text class="tp" x="399.5" y="-20.7">♩=118</text><text class="tp" x="644.5" y="-20.7">♩=118</text>
<text class="mn" x="32" y="-7.3">74</text><text class="mn" x="154.5" y="-7.3">75</text><text class="mn" x="277" y="-7.3">76</text><text class="mn" x="399.5" y="-7.3">77</text><text class="mn" x="644.5" y="-7.3">78</text>
<text class="p" x="153.5" y="76">100</text><text class="c" x="153.5" y="89.3">77219</text><text class="q" x="153.5" y="102.7">0.00%</text>
<text class="p" x="276" y="76">100</text><text class="c" x="276" y="89.3">77819</text><text class="q" x="276" y="102.7">25.00%</text>
<text class="p" x="398.5" y="76">100</text><text class="c" x="398.5" y="89.3">78419</text><text class="q" x="398.5" y="102.7">25.00%</text>
<text class="p" x="643.5" y="76">73</text><text class="c" x="643.5" y="89.3">78857</text><text class="q" x="643.5" y="102.7">25.00%</text>
<text class="p" x="888.5" y="76">0</text><text class="c" x="888.5" y="89.3">78857</text><text class="q" x="888.5" y="102.7">25.00%</text>
<g transform="translate(0,15.17)"><rect class="sr" x="399.5" y="-3.5" width="245" height="7"/><use href="#SR" x="32"/><use href="#SR" x="154.5"/><use href="#R" x="277"/><use href="#R" x="399.5"/></g>
<g transform="translate(0,30.33)"><use href="#SY" x="52.4"/><use href="#SY" x="174.9"/><use href="#Y" x="297.4"/></g>
<g transform="translate(0,45.5)"><use href="#SB" x="72.8"/><use href="#SB" x="195.3"/><use href="#B" x="317.8"/></g>
<g transform="translate(0,60.67)"><use href="#SO" x="93.3"/><use href="#SO" x="215.8"/><use href="#O" x="338.3"/></g>
<rect class="og" x="32" y="0" width="184" height="60.67"/>
</g>

<g id="row20" transform="translate(0,2884.67)">
<use href="#st4"/>
<text class="tp" x="32" y="-20.7">♩=116</text><text class="tp" x="277" y="-20.7">♩=116</text><text class="tp" x="522" y="-20.7">♩=119</text><text class="tp" x="767" y="-20.7">♩=118</text>
<text class="mn" x="32" y="-7.3">79</text><text class="mn" x="277" y="-7.3">80</text><text class="mn" x="522" y="-7.3">81</text><text class="mn" x="767" y="-7.3">82</text>
<text class="p" x="276" y="76">0</text><text class="c" x="276" y="89.3">78857</text><text class="q" x="276" y="102.7">25.00%</text>
<text class="p" x="521" y="76">0</text><text class="c" x="521" y="89.3">78857</text><text class="q" x="521" y="102.7">25.00%</text>
<text class="p" x="766" y="76">0</text><text class="c" x="766" y="89.3">78857</text><text class="q" x="766" y="102.7">25.00%</text>
<text class="p" x="1011" y="76">0</text><text class="c" x="1011" y="89.3">78857</text><text class="q" x="1011" y="102.7">25.00%</text>
</g>

<g id="row21" transform="translate(0,3025.67)">
<use href="#st4"/>
<text class="tp" x="32" y="-20.7">♩=117</text><text class="tp" x="277" y="-20.7">♩=119</text><text class="tp" x="522" y="-20.7">♩=120</text><text class="tp" x="767" y="-20.7">♩=113</text>
<text class="mn" x="32" y="-7.3">83</text><text class="mn" x="277" y="-7.3">84</text><text class="mn" x="522" y="-7.3">85</text><text class="mn" x="767" y="-7.3">86</text>
<text class="p" x="276" y="76">0</text><text class="c" x="276" y="89.3">78857</text><text class="q" x="276" y="102.7">25.00%</text>
<text class="p" x="521" y="76">0</text><text class="c" x="521" y="89.3">78857</text><text class="q" x="521" y="102.7">25.00%</text>
<text class="p" x="766" y="76">0</text><text class="c" x="766" y="89.3">78857</text><text class="q" x="766" y="102.7">25.00%</text>
<text class="p" x="1011" y="76">137</text><text class="c" x="1011" y="89.3">79679</text><text class="q" x="1011" y="102.7">25.00%</text>
<g transform="translate(0,15.17)"><rect class="sr" x="889.5" y="-3.5" width="30.6" height="7"/><rect class="sr" x="981.4" y="-3.5" width="30.6" height="7"/><use href="#R" x="889.5"/><use href="#R" x="981.4"/></g>
<g transform="translate(0,30.33)"><use href="#Y" x="843.6"/><use href="#Y" x="935.4"/></g>
<g transform="translate(0,45.5)"><use href="#B" x="797.6"/></g>
</g>

<g id="row22" transform="translate(0,3166.67)">
<rect class="yb" x="797.3" y="-10.5" width="214.7" height="10.5"/><rect class="yb" x="797.3" y="60.67" width="214.7" height="10.5"/>
<use href="#st4"/>
<text class="tp" x="32" y="-20.7">♩=117</text><text class="tp" x="522" y="-20.7">♩=116</text>
<text class="mn" x="32" y="-7.3">87</text><text class="mn" x="277" y="-7.3">88</text><text class="mn" x="522" y="-7.3">89</text><text class="mn" x="767" y="-7.3">90</text>
<text class="p" x="276" y="76">25</text><text class="c" x="276" y="89.3">79829</text><text class="q" x="276" y="102.7">25.00%</text>
<text class="p" x="521" y="76">137</text><text class="c" x="521" y="89.3">80651</text><text class="q" x="521" y="102.7">25.00%</text>
<text class="p" x="766" y="76">0</text><text class="c" x="766" y="89.3">80651</text><text class="q" x="766" y="102.7">25.00%</text>
<text class="p" x="1011" y="76">137</text><text class="c" x="1011" y="89.3">81473</text><text class="q" x="1011" y="102.7">28.40%</text>
<g><use href="#G" x="47.3"/></g>
<g transform="translate(0,15.17)"><rect class="sr" x="399.5" y="-3.5" width="30.6" height="7"/><rect class="sr" x="491.4" y="-3.5" width="30.6" height="7"/><rect class="sr" x="889.5" y="-3.5" width="30.6" height="7"/><rect class="sr" x="981.4" y="-3.5" width="30.6" height="7"/><use href="#R" x="399.5"/><use href="#R" x="491.4"/><use href="#SR" x="889.5"/><use href="#SR" x="981.4"/></g>
<g transform="translate(0,30.33)"><use href="#Y" x="353.6"/><use href="#Y" x="445.4"/><use href="#SY" x="843.6"/><use href="#SY" x="935.4"/></g>
<g transform="translate(0,45.5)"><use href="#B" x="307.6"/><use href="#SB" x="797.6"/></g>
<rect class="og" x="797.3" y="0" width="214.7" height="60.67"/>
</g>

<g id="row23" transform="translate(0,3307.67)">
<rect class="yb" x="32" y="-10.5" width="14.7" height="10.5"/><rect class="yb" x="32" y="60.67" width="14.7" height="10.5"/>
<use href="#st4"/>
<text class="tp" x="32" y="-20.7">♩=122</text><text class="tp" x="277" y="-20.7">♩=122</text><text class="tp" x="522" y="-20.7">♩=117</text><text class="tp" x="675.1" y="-20.7">♩=117</text><text class="tp" x="767" y="-20.7">♩=118</text>
<text class="mn" x="32" y="-7.3">91</text><text class="mn" x="277" y="-7.3">92</text><text class="mn" x="522" y="-7.3">93</text><text class="mn" x="767" y="-7.3">94</text>
<text class="p" x="276" y="76">25</text><text class="c" x="276" y="89.3">81623</text><text class="q" x="276" y="102.7">53.40%</text>
<text class="p" x="521" y="76">137</text><text class="c" x="521" y="89.3">82445</text><text class="q" x="521" y="102.7">53.40%</text>
<text class="p" x="766" y="76">0</text><text class="c" x="766" y="89.3">82445</text><text class="q" x="766" y="102.7">53.40%</text>
<text class="p" x="1011" y="76">137</text><text class="c" x="1011" y="89.3">83267</text><text class="q" x="1011" y="102.7">53.40%</text>
<g><use href="#SG" x="47.3"/></g>
<g transform="translate(0,15.17)"><rect class="sr" x="399.5" y="-3.5" width="30.6" height="7"/><rect class="sr" x="491.4" y="-3.5" width="30.6" height="7"/><rect class="sr" x="889.5" y="-3.5" width="30.6" height="7"/><rect class="sr" x="981.4" y="-3.5" width="30.6" height="7"/><use href="#R" x="399.5"/><use href="#R" x="491.4"/><use href="#R" x="889.5"/><use href="#R" x="981.4"/></g>
<g transform="translate(0,30.33)"><use href="#Y" x="353.6"/><use href="#Y" x="445.4"/><use href="#Y" x="843.6"/><use href="#Y" x="935.4"/></g>
<g transform="translate(0,45.5)"><use href="#B" x="307.6"/><use href="#B" x="797.6"/></g>
<rect class="og" x="32" y="0" width="14.7" height="60.67"/>
</g>

<g id="row24" transform="translate(0,3448.67)">
<use href="#st4"/>
<text class="tp" x="32" y="-20.7">♩=125</text><text class="tp" x="277" y="-20.7">♩=116</text><text class="tp" x="522" y="-20.7">♩=123</text>
<text class="mn" x="32" y="-7.3">95</text><text class="mn" x="277" y="-7.3">96</text><text class="mn" x="522" y="-7.3">97</text><text class="mn" x="767" y="-7.3">98</text>
<text class="p" x="276" y="76">25</text><text class="c" x="276" y="89.3">83417</text><text class="q" x="276" y="102.7">53.40%</text>
<text class="p" x="521" y="76">137</text><text class="c" x="521" y="89.3">84239</text><text class="q" x="521" y="102.7">53.40%</text>
<text class="p" x="766" y="76">0</text><text class="c" x="766" y="89.3">84239</text><text class="q" x="766" y="102.7">53.40%</text>
<text class="p" x="1011" y="76">162</text><text class="c" x="1011" y="89.3">85211</text><text class="q" x="1011" y="102.7">53.40%</text>
<g><use href="#G" x="47.3"/></g>
<g transform="translate(0,15.17)"><rect class="sr" x="399.5" y="-3.5" width="30.6" height="7"/><rect class="sr" x="491.4" y="-3.5" width="30.6" height="7"/><rect class="sr" x="889.5" y="-3.5" width="30.6" height="7"/><rect class="sr" x="981.4" y="-3.5" width="30.6" height="7"/><use href="#R" x="399.5"/><use href="#R" x="491.4"/><use href="#R" x="889.5"/><use href="#R" x="981.4"/></g>
<g transform="translate(0,30.33)"><use href="#Y" x="353.6"/><use href="#Y" x="445.4"/><use href="#Y" x="797.6"/><use href="#Y" x="843.6"/><use href="#Y" x="935.4"/></g>
<g transform="translate(0,45.5)"><use href="#B" x="307.6"/><use href="#B" x="807.8"/></g>
</g>

<g id="row25" transform="translate(0,3589.67)">
<use href="#st4"/>
<text class="tp" x="32" y="-20.7">♩=118</text><text class="tp" x="277" y="-20.7">♩=116</text><text class="tp" x="522" y="-20.7">♩=120</text><text class="tp" x="767" y="-20.7">♩=116</text>
<text class="mn" x="32" y="-7.3">99</text><text class="mn" x="277" y="-7.3">100</text><text class="mn" x="522" y="-7.3">101</text><text class="mn" x="767" y="-7.3">102</text>
<text class="p" x="276" y="76">25</text><text class="c" x="276" y="89.3">85361</text><text class="q" x="276" y="102.7">53.40%</text>
<text class="p" x="521" y="76">137</text><text class="c" x="521" y="89.3">86183</text><text class="q" x="521" y="102.7">53.40%</text>
<text class="p" x="766" y="76">0</text><text class="c" x="766" y="89.3">86183</text><text class="q" x="766" y="102.7">53.40%</text>
<text class="p" x="1011" y="76">162</text><text class="c" x="1011" y="89.3">87155</text><text class="q" x="1011" y="102.7">56.80%</text>
<g><use href="#G" x="47.3"/></g>
<g transform="translate(0,15.17)"><rect class="sr" x="399.5" y="-3.5" width="30.6" height="7"/><rect class="sr" x="491.4" y="-3.5" width="30.6" height="7"/><use href="#R" x="399.5"/><use href="#R" x="491.4"/></g>
<g transform="translate(0,30.33)"><rect class="sy" x="889.5" y="-3.5" width="30.6" height="7"/><rect class="sy" x="981.4" y="-3.5" width="30.6" height="7"/><use href="#Y" x="353.6"/><use href="#Y" x="445.4"/><use href="#SY" x="889.5"/><use href="#SY" x="981.4"/></g>
<g transform="translate(0,45.5)"><use href="#B" x="307.6"/><use href="#SB" x="797.6"/><use href="#SB" x="843.6"/><use href="#SB" x="935.4"/></g>
<g transform="translate(0,60.67)"><use href="#SO" x="807.8"/></g>
<rect class="og" x="797.3" y="0" width="214.7" height="60.67"/>
</g>

<g id="row26" transform="translate(0,3730.67)">
<use href="#st4"/>
<text class="tp" x="32" y="-20.7">♩=124</text><text class="tp" x="277" y="-20.7">♩=119</text><text class="tp" x="522" y="-20.7">♩=122</text><text class="tp" x="767" y="-20.7">♩=120</text>
<text class="mn" x="32" y="-7.3">103</text><text class="mn" x="277" y="-7.3">104</text><text class="mn" x="522" y="-7.3">105</text><text class="mn" x="767" y="-7.3">106</text>
<text class="p" x="276" y="76">25</text><text class="c" x="276" y="89.3">87305</text><text class="q" x="276" y="102.7">81.80%</text>
<text class="p" x="521" y="76">137</text><text class="c" x="521" y="89.3">88127</text><text class="q" x="521" y="102.7">81.80%</text>
<text class="p" x="766" y="76">0</text><text class="c" x="766" y="89.3">88127</text><text class="q" x="766" y="102.7">81.80%</text>
<text class="p" x="1011" y="76">137</text><text class="c" x="1011" y="89.3">88949</text><text class="q" x="1011" y="102.7">81.80%</text>
<g transform="translate(0,15.17)"><use href="#SR" x="47.3"/></g>
<g transform="translate(0,30.33)"><rect class="sy" x="399.5" y="-3.5" width="30.6" height="7"/><rect class="sy" x="491.4" y="-3.5" width="30.6" height="7"/><rect class="sy" x="889.5" y="-3.5" width="30.6" height="7"/><rect class="sy" x="981.4" y="-3.5" width="30.6" height="7"/><use href="#Y" x="399.5"/><use href="#Y" x="491.4"/><use href="#Y" x="889.5"/><use href="#Y" x="981.4"/></g>
<g transform="translate(0,45.5)"><use href="#B" x="353.6"/><use href="#B" x="445.4"/><use href="#B" x="843.6"/><use href="#B" x="935.4"/></g>
<g transform="translate(0,60.67)"><use href="#O" x="307.6"/><use href="#O" x="797.6"/></g>
<rect class="og" x="32" y="0" width="14.7" height="60.67"/>
</g>

<g id="row27" transform="translate(0,3871.67)">
<use href="#st4"/>
<text class="tp" x="32" y="-20.7">♩=119</text><text class="tp" x="277" y="-20.7">♩=118</text><text class="tp" x="522" y="-20.7">♩=118</text><text class="tp" x="767" y="-20.7">♩=117</text>
<text class="mn" x="32" y="-7.3">107</text><text class="mn" x="277" y="-7.3">108</text><text class="mn" x="522" y="-7.3">109</text><text class="mn" x="767" y="-7.3">110</text>
<text class="p" x="276" y="76">25</text><text class="c" x="276" y="89.3">89099</text><text class="q" x="276" y="102.7">81.80%</text>
<text class="p" x="521" y="76">137</text><text class="c" x="521" y="89.3">89921</text><text class="q" x="521" y="102.7">81.80%</text>
<text class="p" x="766" y="76">0</text><text class="c" x="766" y="89.3">89921</text><text class="q" x="766" y="102.7">81.80%</text>
<text class="p" x="1011" y="76">181</text><text class="c" x="1011" y="89.3">91943</text><text class="q" x="1011" y="102.7">73.19%</text>
<g><use href="#G" x="874.2"/><use href="#G" x="966.1"/><use href="#G" x="981.4"/></g>
<g transform="translate(0,15.17)"><rect class="sr" x="889.5" y="-3.5" width="30.6" height="7"/><use href="#R" x="47.3"/><use href="#R" x="889.5"/></g>
<g transform="translate(0,30.33)"><rect class="sy" x="399.5" y="-3.5" width="30.6" height="7"/><rect class="sy" x="491.4" y="-3.5" width="30.6" height="7"/><use href="#Y" x="399.5"/><use href="#Y" x="491.4"/><use href="#Y" x="843.6"/><use href="#Y" x="935.4"/></g>
<g transform="translate(0,45.5)"><use href="#B" x="353.6"/><use href="#B" x="445.4"/><use href="#B" x="797.6"/></g>
<g transform="translate(0,60.67)"><use href="#O" x="307.6"/></g>
<rect class="ob" x="842" y="0" width="170" height="60.67"/>
</g>

<g id="row28" transform="translate(0,4012.67)">
<use href="#st4"/>
<text class="tp" x="32" y="-20.7">♩=123</text><text class="tp" x="277" y="-20.7">♩=118</text><text class="tp" x="522" y="-20.7">♩=123</text><text class="tp" x="767" y="-20.7">♩=120</text>
<text class="mn" x="32" y="-7.3">111</text><text class="mn" x="277" y="-7.3">112</text><text class="mn" x="522" y="-7.3">113</text><text class="mn" x="767" y="-7.3">114</text>
<text class="p" x="276" y="76">75</text><text class="c" x="276" y="89.3">92843</text><text class="q" x="276" y="102.7">60.69%</text>
<text class="p" x="521" y="76">206</text><text class="c" x="521" y="89.3">95315</text><text class="q" x="521" y="102.7">48.19%</text>
<text class="p" x="766" y="76">75</text><text class="c" x="766" y="89.3">96215</text><text class="q" x="766" y="102.7">35.69%</text>
<text class="p" x="1011" y="76">206</text><text class="c" x="1011" y="89.3">98687</text><text class="q" x="1011" y="102.7">23.19%</text>
<g><use href="#G" x="384.2"/><use href="#G" x="476.1"/><use href="#G" x="491.4"/><use href="#G" x="874.2"/><use href="#G" x="966.1"/><use href="#G" x="981.4"/></g>
<g transform="translate(0,15.17)"><rect class="sr" x="399.5" y="-3.5" width="30.6" height="7"/><rect class="sr" x="889.5" y="-3.5" width="30.6" height="7"/><use href="#R" x="32"/><use href="#R" x="399.5"/><use href="#R" x="522"/><use href="#R" x="889.5"/></g>
<g transform="translate(0,30.33)"><use href="#Y" x="62.6"/><use href="#Y" x="307.6"/><use href="#Y" x="353.6"/><use href="#Y" x="445.4"/><use href="#Y" x="552.6"/><use href="#Y" x="797.6"/><use href="#Y" x="843.6"/><use href="#Y" x="935.4"/></g>
<g transform="translate(0,45.5)"><use href="#B" x="93.3"/><use href="#B" x="322.9"/><use href="#B" x="583.3"/><use href="#B" x="807.8"/></g>
<rect class="ob" x="32" y="0" width="980" height="60.67"/>
</g>

<g id="row29" transform="translate(0,4153.67)">
<use href="#gr56"/>
<path d="M277 0V60.67M522 0V60.67M644.5 0V60.67M767 0V60.67" stroke="#000"/>
<rect x="32" width="857.5" height="60.67" fill="none" stroke="#000" stroke-width="1.5"/>
<text class="ts" x="526" y="26.5">2</text><text class="ts" x="526" y="57.5">4</text>
<text class="tp" x="32" y="-20.7">♩=118</text><text class="tp" x="277" y="-20.7">♩=118</text><text class="tp" x="522" y="-20.7">♩=158</text><text class="tp" x="644.5" y="-20.7">♩=153</text><text class="tp" x="767" y="-20.7">♩=152</text>
<text class="mn" x="32" y="-7.3">115</text><text class="mn" x="277" y="-7.3">116</text><text class="mn" x="522" y="-7.3">117</text><text class="mn" x="644.5" y="-7.3">118</text><text class="mn" x="767" y="-7.3">119</text>
<text class="p" x="276" y="76">75</text><text class="c" x="276" y="89.3">99587</text><text class="q" x="276" y="102.7">10.69%</text>
<text class="p" x="521" y="76">156</text><text class="c" x="521" y="89.3">101459</text><text class="q" x="521" y="102.7">0.00%</text>
<text class="p" x="643.5" y="76">100</text><text class="c" x="643.5" y="89.3">102659</text><text class="q" x="643.5" y="102.7">0.00%</text>
<text class="p" x="766" y="76">100</text><text class="c" x="766" y="89.3">103859</text><text class="q" x="766" y="102.7">0.00%</text>
<text class="p" x="888.5" y="76">100</text><text class="c" x="888.5" y="89.3">105059</text><text class="q" x="888.5" y="102.7">0.00%</text>
<g transform="translate(0,15.17)"><rect class="sr" x="399.5" y="-3.5" width="30.6" height="7"/><use href="#R" x="32"/><use href="#R" x="399.5"/><use href="#R" x="506.7"/><use href="#R" x="522"/><use href="#R" x="644.5"/><use href="#R" x="767"/></g>
<g transform="translate(0,30.33)"><use href="#Y" x="62.6"/><use href="#Y" x="353.6"/><use href="#Y" x="445.4"/><use href="#Y" x="542.4"/><use href="#Y" x="664.9"/><use href="#Y" x="787.4"/></g>
<g transform="translate(0,45.5)"><use href="#B" x="93.3"/><use href="#B" x="307.6"/><use href="#B" x="491.4"/><use href="#B" x="562.8"/><use href="#B" x="685.3"/><use href="#B" x="807.8"/></g>
<g transform="translate(0,60.67)"><use href="#O" x="583.3"/><use href="#O" x="705.8"/><use href="#O" x="828.3"/></g>
<rect class="ob" x="32" y="0" width="810" height="60.67"/>
</g>

<g id="row30" transform="translate(0,4294.67)">
<rect class="yb" x="32" y="-10.5" width="306" height="10.5"/><rect class="yb" x="32" y="60.67" width="306" height="10.5"/>
<use href="#st4"/>
<text class="ts" x="35.5" y="26.5">4</text><text class="ts" x="35.5" y="57.5">4</text>
<text class="tp" x="32" y="-20.7">♩=110</text><text class="tp" x="277" y="-20.7">♩=115</text><text class="tp" x="522" y="-20.7">♩=115</text><text class="tp" x="767" y="-20.7">♩=115</text>
<text class="mn" x="32" y="-7.3">120</text><text class="mn" x="277" y="-7.3">121</text><text class="mn" x="522" y="-7.3">122</text><text class="mn" x="767" y="-7.3">123</text>
<text class="p" x="276" y="76">118</text><text class="c" x="276" y="89.3">105767</text><text class="q" x="276" y="102.7">37.32%</text>
<text class="p" x="521" y="76">13</text><text class="c" x="521" y="89.3">105845</text><text class="q" x="521" y="102.7">40.73%</text>
<text class="p" x="766" y="76">0</text><text class="c" x="766" y="89.3">105845</text><text class="q" x="766" y="102.7">40.73%</text>
<text class="p" x="1011" y="76">0</text><text class="c" x="1011" y="89.3">105845</text><text class="q" x="1011" y="102.7">40.73%</text>
<g transform="translate(0,15.17)"><rect class="sr" x="32" y="-3.5" width="214.7" height="7"/><use href="#SR" x="32"/></g>
<g transform="translate(0,45.5)"><use href="#SB" x="261.7"/></g>
<g transform="translate(0,60.67)"><rect class="so" x="268.7" y="-3.5" width="69.3" height="7"/><use href="#SO" x="268.7"/></g>
<rect class="og" x="32" y="0" width="306" height="60.67"/>
</g>

<g id="row31" transform="translate(0,4435.67)">
<use href="#st4"/>
<text class="tp" x="32" y="-20.7">♩=119</text><text class="tp" x="277" y="-20.7">♩=114</text><text class="tp" x="522" y="-20.7">♩=116</text><text class="tp" x="767" y="-20.7">♩=117</text>
<text class="mn" x="32" y="-7.3">124</text><text class="mn" x="277" y="-7.3">125</text><text class="mn" x="522" y="-7.3">126</text><text class="mn" x="767" y="-7.3">127</text>
<text class="p" x="276" y="76">156</text><text class="c" x="276" y="89.3">106781</text><text class="q" x="276" y="102.7">40.73%</text>
<text class="p" x="521" y="76">181</text><text class="c" x="521" y="89.3">107867</text><text class="q" x="521" y="102.7">40.73%</text>
<text class="p" x="766" y="76">190</text><text class="c" x="766" y="89.3">109007</text><text class="q" x="766" y="102.7">40.73%</text>
<text class="p" x="1011" y="76">156</text><text class="c" x="1011" y="89.3">109943</text><text class="q" x="1011" y="102.7">40.73%</text>
<g><use href="#G" x="322.9"/><use href="#G" x="399.5"/><use href="#G" x="430.1"/><use href="#G" x="445.4"/><use href="#G" x="567.9"/><use href="#G" x="613.9"/><use href="#G" x="629.2"/><use href="#G" x="812.9"/><use href="#G" x="889.5"/><use href="#G" x="935.4"/></g>
<g transform="translate(0,15.17)"><rect class="sr" x="705.8" y="-3.5" width="45.5" height="7"/><use href="#R" x="139.2"/><use href="#R" x="154.5"/><use href="#R" x="185.1"/><use href="#R" x="705.8"/></g>
<g transform="translate(0,30.33)"><use href="#Y" x="215.8"/><use href="#Y" x="460.8"/><use href="#Y" x="675.1"/><use href="#Y" x="950.8"/></g>
<g transform="translate(0,45.5)"><use href="#B" x="246.4"/><use href="#B" x="644.5"/></g>
<g transform="translate(0,60.67)"><rect class="so" x="93.3" y="-3.5" width="30.6" height="7"/><rect class="so" x="277" y="-3.5" width="30.6" height="7"/><rect class="so" x="522" y="-3.5" width="30.6" height="7"/><rect class="so" x="767" y="-3.5" width="30.6" height="7"/><use href="#O" x="93.3"/><use href="#O" x="277"/><use href="#O" x="491.4"/><use href="#O" x="522"/><use href="#O" x="767"/><use href="#O" x="981.4"/></g>
</g>

<g id="row32" transform="translate(0,4576.67)">
<use href="#st4"/>
<text class="tp" x="32" y="-20.7">♩=118</text><text class="tp" x="277" y="-20.7">♩=117</text><text class="tp" x="522" y="-20.7">♩=117</text><text class="tp" x="767" y="-20.7">♩=116</text>
<text class="mn" x="32" y="-7.3">128</text><text class="mn" x="277" y="-7.3">129</text><text class="mn" x="522" y="-7.3">130</text><text class="mn" x="767" y="-7.3">131</text>
<text class="p" x="276" y="76">184</text><text class="c" x="276" y="89.3">111047</text><text class="q" x="276" y="102.7">40.73%</text>
<text class="p" x="521" y="76">131</text><text class="c" x="521" y="89.3">111833</text><text class="q" x="521" y="102.7">40.73%</text>
<text class="p" x="766" y="76">190</text><text class="c" x="766" y="89.3">112973</text><text class="q" x="766" y="102.7">40.73%</text>
<text class="p" x="1011" y="76">156</text><text class="c" x="1011" y="89.3">113909</text><text class="q" x="1011" y="102.7">40.73%</text>
<g><use href="#G" x="139.2"/><use href="#G" x="322.9"/><use href="#G" x="445.4"/><use href="#G" x="567.9"/><use href="#G" x="613.9"/><use href="#G" x="629.2"/><use href="#G" x="812.9"/><use href="#G" x="889.5"/><use href="#G" x="935.4"/></g>
<g transform="translate(0,15.17)"><rect class="sr" x="32" y="-3.5" width="44.7" height="7"/><rect class="sr" x="705.8" y="-3.5" width="45.5" height="7"/><use href="#R" x="32"/><use href="#R" x="93.3"/><use href="#R" x="154.5"/><use href="#R" x="705.8"/></g>
<g transform="translate(0,30.33)"><use href="#Y" x="185.1"/><use href="#Y" x="460.8"/><use href="#Y" x="675.1"/><use href="#Y" x="950.8"/></g>
<g transform="translate(0,45.5)"><use href="#B" x="215.8"/><use href="#B" x="644.5"/></g>
<g transform="translate(0,60.67)"><rect class="so" x="277" y="-3.5" width="30.6" height="7"/><rect class="so" x="522" y="-3.5" width="30.6" height="7"/><rect class="so" x="767" y="-3.5" width="30.6" height="7"/><use href="#O" x="246.4"/><use href="#O" x="277"/><use href="#O" x="491.4"/><use href="#O" x="522"/><use href="#O" x="767"/><use href="#O" x="981.4"/></g>
</g>

<g id="row33" transform="translate(0,4717.67)">
<use href="#st4"/>
<text class="tp" x="32" y="-20.7">♩=120</text><text class="tp" x="277" y="-20.7">♩=117</text><text class="tp" x="522" y="-20.7">♩=116</text><text class="tp" x="767" y="-20.7">♩=119</text>
<text class="mn" x="32" y="-7.3">132</text><text class="mn" x="277" y="-7.3">133</text><text class="mn" x="522" y="-7.3">134</text><text class="mn" x="767" y="-7.3">135</text>
<text class="p" x="276" y="76">184</text><text class="c" x="276" y="89.3">115013</text><text class="q" x="276" y="102.7">40.73%</text>
<text class="p" x="521" y="76">156</text><text class="c" x="521" y="89.3">115949</text><text class="q" x="521" y="102.7">40.73%</text>
<text class="p" x="766" y="76">190</text><text class="c" x="766" y="89.3">117089</text><text class="q" x="766" y="102.7">40.73%</text>
<text class="p" x="1011" y="76">156</text><text class="c" x="1011" y="89.3">118025</text><text class="q" x="1011" y="102.7">40.73%</text>
<g><use href="#G" x="139.2"/><use href="#G" x="322.9"/><use href="#G" x="399.5"/><use href="#G" x="445.4"/><use href="#G" x="567.9"/><use href="#G" x="613.9"/><use href="#G" x="629.2"/><use href="#G" x="812.9"/><use href="#G" x="889.5"/><use href="#G" x="935.4"/></g>
<g transform="translate(0,15.17)"><rect class="sr" x="32" y="-3.5" width="44.7" height="7"/><rect class="sr" x="705.8" y="-3.5" width="45.5" height="7"/><use href="#R" x="32"/><use href="#R" x="93.3"/><use href="#R" x="154.5"/><use href="#R" x="705.8"/></g>
<g transform="translate(0,30.33)"><use href="#Y" x="185.1"/><use href="#Y" x="460.8"/><use href="#Y" x="675.1"/><use href="#Y" x="950.8"/></g>
<g transform="translate(0,45.5)"><use href="#B" x="215.8"/><use href="#B" x="644.5"/></g>
<g transform="translate(0,60.67)"><rect class="so" x="277" y="-3.5" width="30.6" height="7"/><rect class="so" x="522" y="-3.5" width="30.6" height="7"/><rect class="so" x="767" y="-3.5" width="30.6" height="7"/><use href="#O" x="246.4"/><use href="#O" x="277"/><use href="#O" x="491.4"/><use href="#O" x="522"/><use href="#O" x="767"/><use href="#O" x="981.4"/></g>
</g>

<g id="row34" transform="translate(0,4858.67)">
<use href="#st4"/>
<text class="tp" x="32" y="-20.7">♩=120</text><text class="tp" x="277" y="-20.7">♩=116</text><text class="tp" x="522" y="-20.7">♩=119</text><text class="tp" x="767" y="-20.7">♩=118</text>
<text class="mn" x="32" y="-7.3">136</text><text class="mn" x="277" y="-7.3">137</text><text class="mn" x="522" y="-7.3">138</text><text class="mn" x="767" y="-7.3">139</text>
<text class="p" x="276" y="76">184</text><text class="c" x="276" y="89.3">119129</text><text class="q" x="276" y="102.7">40.73%</text>
<text class="p" x="521" y="76">225</text><text class="c" x="521" y="89.3">120479</text><text class="q" x="521" y="102.7">40.73%</text>
<text class="p" x="766" y="76">231</text><text class="c" x="766" y="89.3">121865</text><text class="q" x="766" y="102.7">40.73%</text>
<text class="p" x="1011" y="76">225</text><text class="c" x="1011" y="89.3">123215</text><text class="q" x="1011" y="102.7">40.73%</text>
<g><use href="#G" x="139.2"/><use href="#SG" x="843.6"/><use href="#SG" x="858.9"/></g>
<g transform="translate(0,15.17)"><rect class="sr" x="32" y="-3.5" width="44.7" height="7"/><use href="#R" x="32"/><use href="#R" x="93.3"/><use href="#R" x="154.5"/><use href="#R" x="185.1"/><use href="#R" x="215.8"/><use href="#R" x="246.4"/><use href="#R" x="399.5"/><use href="#R" x="430.1"/><use href="#R" x="736.4"/><use href="#SR" x="889.5"/><use href="#SR" x="920.1"/></g>
<g transform="translate(0,30.33)"><use href="#Y" x="460.8"/><use href="#Y" x="675.1"/><use href="#Y" x="705.8"/><use href="#SY" x="950.8"/></g>
<g transform="translate(0,45.5)"><use href="#B" x="491.4"/><use href="#B" x="598.6"/><use href="#B" x="690.4"/><use href="#SB" x="981.4"/></g>
<g transform="translate(0,60.67)"><rect class="so" x="522" y="-3.5" width="30.6" height="7"/><use href="#O" x="277"/><use href="#O" x="307.6"/><use href="#O" x="322.9"/><use href="#O" x="353.6"/><use href="#O" x="368.9"/><use href="#O" x="522"/><use href="#O" x="567.9"/><use href="#O" x="613.9"/><use href="#O" x="644.5"/><use href="#SO" x="767"/><use href="#SO" x="797.6"/><use href="#SO" x="812.9"/></g>
<rect class="og" x="766.7" y="0" width="245.3" height="60.67"/>
</g>

<g id="row35" transform="translate(0,4999.67)">
<use href="#st4"/>
<text class="tp" x="32" y="-20.7">♩=119</text><text class="tp" x="277" y="-20.7">♩=117</text><text class="tp" x="522" y="-20.7">♩=118</text><text class="tp" x="767" y="-20.7">♩=118</text>
<text class="mn" x="32" y="-7.3">140</text><text class="mn" x="277" y="-7.3">141</text><text class="mn" x="522" y="-7.3">142</text><text class="mn" x="767" y="-7.3">143</text>
<text class="p" x="276" y="76">231</text><text class="c" x="276" y="89.3">124601</text><text class="q" x="276" y="102.7">67.42%</text>
<text class="p" x="521" y="76">250</text><text class="c" x="521" y="89.3">126101</text><text class="q" x="521" y="102.7">67.42%</text>
<text class="p" x="766" y="76">225</text><text class="c" x="766" y="89.3">127451</text><text class="q" x="766" y="102.7">67.42%</text>
<text class="p" x="1011" y="76">225</text><text class="c" x="1011" y="89.3">128801</text><text class="q" x="1011" y="102.7">67.42%</text>
<g><use href="#G" x="185.1"/><use href="#G" x="200.4"/><use href="#G" x="460.8"/><use href="#G" x="598.6"/><use href="#G" x="613.9"/><use href="#G" x="705.8"/><use href="#G" x="950.8"/></g>
<g transform="translate(0,15.17)"><use href="#R" x="277"/><use href="#R" x="353.6"/><use href="#R" x="491.4"/><use href="#R" x="644.5"/><use href="#R" x="675.1"/><use href="#R" x="736.4"/><use href="#R" x="812.9"/><use href="#R" x="848.7"/><use href="#R" x="981.4"/></g>
<g transform="translate(0,30.33)"><use href="#Y" x="215.8"/><use href="#Y" x="292.3"/><use href="#Y" x="322.9"/><use href="#Y" x="368.9"/><use href="#Y" x="430.1"/><use href="#Y" x="522"/><use href="#Y" x="552.6"/><use href="#Y" x="567.9"/><use href="#Y" x="767"/><use href="#Y" x="828.3"/><use href="#Y" x="858.9"/><use href="#Y" x="889.5"/><use href="#Y" x="920.1"/></g>
<g transform="translate(0,45.5)"><use href="#B" x="108.6"/><use href="#B" x="246.4"/><use href="#B" x="399.5"/></g>
<g transform="translate(0,60.67)"><rect class="so" x="32" y="-3.5" width="30.6" height="7"/><use href="#SO" x="32"/><use href="#SO" x="77.9"/><use href="#O" x="123.9"/><use href="#O" x="154.5"/><use href="#O" x="414.8"/></g>
<rect class="og" x="32" y="0" width="44.7" height="60.67"/>
</g>

<g id="row36" transform="translate(0,5140.67)">
<use href="#st4"/>
<text class="tp" x="32" y="-20.7">♩=119</text><text class="tp" x="277" y="-20.7">♩=118</text><text class="tp" x="522" y="-20.7">♩=119</text><text class="tp" x="767" y="-20.7">♩=119</text>
<text class="mn" x="32" y="-7.3">144</text><text class="mn" x="277" y="-7.3">145</text><text class="mn" x="522" y="-7.3">146</text><text class="mn" x="767" y="-7.3">147</text>
<text class="p" x="276" y="76">206</text><text class="c" x="276" y="89.3">130037</text><text class="q" x="276" y="102.7">67.42%</text>
<text class="p" x="521" y="76">250</text><text class="c" x="521" y="89.3">131537</text><text class="q" x="521" y="102.7">67.42%</text>
<text class="p" x="766" y="76">225</text><text class="c" x="766" y="89.3">133187</text><text class="q" x="766" y="102.7">64.87%</text>
<text class="p" x="1011" y="76">250</text><text class="c" x="1011" y="89.3">136187</text><text class="q" x="1011" y="102.7">52.37%</text>
<g><use href="#G" x="108.6"/><use href="#G" x="598.6"/><use href="#G" x="613.9"/></g>
<g transform="translate(0,15.17)"><use href="#R" x="491.4"/><use href="#R" x="644.5"/><use href="#R" x="675.1"/><use href="#R" x="950.8"/></g>
<g transform="translate(0,30.33)"><rect class="sy" x="32" y="-3.5" width="30.6" height="7"/><use href="#Y" x="32"/><use href="#Y" x="77.9"/><use href="#Y" x="123.9"/><use href="#Y" x="154.5"/><use href="#Y" x="185.1"/><use href="#Y" x="430.1"/><use href="#Y" x="460.8"/><use href="#Y" x="705.8"/><use href="#Y" x="889.5"/><use href="#Y" x="920.1"/></g>
<g transform="translate(0,45.5)"><use href="#B" x="215.8"/><use href="#B" x="246.4"/><use href="#B" x="277"/><use href="#B" x="445.4"/><use href="#B" x="552.6"/><use href="#B" x="736.4"/><use href="#B" x="797.6"/><use href="#B" x="843.6"/><use href="#B" x="898.7"/><use href="#B" x="981.4"/></g>
<g transform="translate(0,60.67)"><use href="#O" x="292.3"/><use href="#O" x="322.9"/><use href="#O" x="353.6"/><use href="#O" x="368.9"/><use href="#O" x="399.5"/><use href="#O" x="522"/><use href="#O" x="567.9"/><use href="#O" x="767"/><use href="#O" x="812.9"/><use href="#O" x="858.9"/></g>
<rect class="op" x="706" y="0" width="9.3" height="60.67"/>
<rect class="ob" x="715.3" y="0" width="296.7" height="60.67"/>
</g>

<g id="row37" transform="translate(0,5281.67)">
<use href="#st4"/>
<text class="tp" x="32" y="-20.7">♩=119</text><text class="tp" x="277" y="-20.7">♩=117</text><text class="tp" x="522" y="-20.7">♩=119</text><text class="tp" x="767" y="-20.7">♩=118</text>
<text class="mn" x="32" y="-7.3">148</text><text class="mn" x="277" y="-7.3">149</text><text class="mn" x="522" y="-7.3">150</text><text class="mn" x="767" y="-7.3">151</text>
<text class="p" x="276" y="76">225</text><text class="c" x="276" y="89.3">138887</text><text class="q" x="276" y="102.7">39.87%</text>
<text class="p" x="521" y="76">250</text><text class="c" x="521" y="89.3">141887</text><text class="q" x="521" y="102.7">27.37%</text>
<text class="p" x="766" y="76">259</text><text class="c" x="766" y="89.3">144995</text><text class="q" x="766" y="102.7">14.87%</text>
<text class="p" x="1011" y="76">250</text><text class="c" x="1011" y="89.3">147995</text><text class="q" x="1011" y="102.7">2.37%</text>
<g><use href="#G" x="368.9"/><use href="#G" x="491.4"/><use href="#G" x="736.4"/><use href="#G" x="858.9"/><use href="#G" x="981.4"/></g>
<g transform="translate(0,15.17)"><rect class="sr" x="675.1" y="-3.5" width="45.6" height="7"/><use href="#R" x="307.6"/><use href="#R" x="399.5"/><use href="#R" x="506.7"/><use href="#R" x="552.6"/><use href="#R" x="675.1"/><use href="#R" x="751.7"/><use href="#R" x="797.6"/><use href="#R" x="889.5"/><use href="#R" x="996.7"/></g>
<g transform="translate(0,30.33)"><use href="#Y" x="277"/><use href="#Y" x="322.9"/><use href="#Y" x="353.6"/><use href="#Y" x="430.1"/><use href="#Y" x="522"/><use href="#Y" x="567.9"/><use href="#Y" x="598.6"/><use href="#Y" x="644.5"/><use href="#Y" x="767"/><use href="#Y" x="812.9"/><use href="#Y" x="843.6"/><use href="#Y" x="920.1"/></g>
<g transform="translate(0,45.5)"><use href="#B" x="62.6"/><use href="#B" x="108.6"/><use href="#B" x="215.8"/><use href="#B" x="246.4"/><use href="#B" x="460.8"/><use href="#B" x="613.9"/><use href="#B" x="950.8"/></g>
<g transform="translate(0,60.67)"><use href="#O" x="32"/><use href="#O" x="77.9"/><use href="#O" x="123.9"/><use href="#O" x="154.5"/><use href="#O" x="185.1"/><use href="#O" x="629.2"/></g>
<rect class="ob" x="32" y="0" width="980" height="60.67"/>
</g>

<g id="row38" transform="translate(0,5422.67)">
<use href="#st4"/>
<text class="tp" x="32" y="-20.7">♩=120</text><text class="tp" x="277" y="-20.7">♩=117</text><text class="tp" x="522" y="-20.7">♩=116</text><text class="tp" x="767" y="-20.7">♩=116</text>
<text class="mn" x="32" y="-7.3">152</text><text class="mn" x="277" y="-7.3">153</text><text class="mn" x="522" y="-7.3">154</text><text class="mn" x="767" y="-7.3">155</text>
<text class="p" x="276" y="76">225</text><text class="c" x="276" y="89.3">150695</text><text class="q" x="276" y="102.7">0.00%</text>
<text class="p" x="521" y="76">250</text><text class="c" x="521" y="89.3">153695</text><text class="q" x="521" y="102.7">0.00%</text>
<text class="p" x="766" y="76">275</text><text class="c" x="766" y="89.3">156995</text><text class="q" x="766" y="102.7">14.84%</text>
<text class="p" x="1011" y="76">250</text><text class="c" x="1011" y="89.3">159995</text><text class="q" x="1011" y="102.7">2.34%</text>
<g><use href="#SG" x="368.9"/><use href="#G" x="858.9"/></g>
<g transform="translate(0,15.17)"><use href="#R" x="62.6"/><use href="#R" x="215.8"/><use href="#R" x="246.4"/><use href="#SR" x="399.5"/><use href="#SR" x="460.8"/><use href="#R" x="705.8"/><use href="#R" x="889.5"/><use href="#R" x="920.1"/></g>
<g transform="translate(0,30.33)"><use href="#Y" x="32"/><use href="#Y" x="77.9"/><use href="#Y" x="108.6"/><use href="#Y" x="123.9"/><use href="#Y" x="154.5"/><use href="#Y" x="185.1"/><use href="#SY" x="307.6"/><use href="#SY" x="430.1"/><use href="#SY" x="491.4"/><use href="#SY" x="506.7"/><use href="#SY" x="552.6"/><use href="#Y" x="675.1"/><use href="#Y" x="736.4"/><use href="#Y" x="751.7"/><use href="#Y" x="797.6"/><use href="#Y" x="950.8"/></g>
<g transform="translate(0,45.5)"><use href="#SB" x="277"/><use href="#SB" x="322.9"/><use href="#SB" x="353.6"/><use href="#SB" x="522"/><use href="#SB" x="567.9"/><use href="#B" x="598.6"/><use href="#B" x="613.9"/><use href="#B" x="644.5"/><use href="#B" x="767"/><use href="#B" x="812.9"/><use href="#B" x="843.6"/><use href="#B" x="981.4"/><use href="#B" x="996.7"/></g>
<g transform="translate(0,60.67)"><use href="#O" x="659.8"/></g>
<rect class="ob" x="32" y="0" width="980" height="60.67"/>
<rect class="og" x="276.7" y="0" width="290" height="60.67"/>
</g>

<g id="row39" transform="translate(0,5563.67)">
<use href="#gr64"/>
<path d="M154.5 0V60.67M277 0V60.67M399.5 0V60.67M522 0V60.67M644.5 0V60.67M767 0V60.67M889.5 0V60.67" stroke="#000"/>
<rect x="32" width="980" height="60.67" fill="none" stroke="#000" stroke-width="1.5"/>
<text class="ts" x="35.5" y="26.5">2</text><text class="ts" x="35.5" y="57.5">4</text>
<text class="tp" x="32" y="-20.7">♩=152</text><text class="tp" x="154.5" y="-20.7">♩=155</text><text class="tp" x="277" y="-20.7">♩=142</text>
<text class="mn" x="32" y="-7.3">156</text><text class="mn" x="154.5" y="-7.3">157</text><text class="mn" x="277" y="-7.3">158</text><text class="mn" x="399.5" y="-7.3">159</text><text class="mn" x="522" y="-7.3">160</text><text class="mn" x="644.5" y="-7.3">161</text><text class="mn" x="767" y="-7.3">162</text><text class="mn" x="889.5" y="-7.3">163</text>
<text class="p" x="153.5" y="76">100</text><text class="c" x="153.5" y="89.3">161195</text><text class="q" x="153.5" y="102.7">0.00%</text>
<text class="p" x="276" y="76">100</text><text class="c" x="276" y="89.3">161795</text><text class="q" x="276" y="102.7">0.00%</text>
<text class="p" x="398.5" y="76">100</text><text class="c" x="398.5" y="89.3">162395</text><text class="q" x="398.5" y="102.7">0.00%</text>
<text class="p" x="521" y="76">49</text><text class="c" x="521" y="89.3">162689</text><text class="q" x="521" y="102.7">0.00%</text>
<text class="p" x="643.5" y="76">24</text><text class="c" x="643.5" y="89.3">162833</text><text class="q" x="643.5" y="102.7">0.00%</text>
<text class="p" x="766" y="76">24</text><text class="c" x="766" y="89.3">162977</text><text class="q" x="766" y="102.7">0.00%</text>
<text class="p" x="888.5" y="76">24</text><text class="c" x="888.5" y="89.3">163121</text><text class="q" x="888.5" y="102.7">0.00%</text>
<text class="p" x="1011" y="76">24</text><text class="c" x="1011" y="89.3">163265</text><text class="q" x="1011" y="102.7">0.00%</text>
<g><rect class="sg" x="399.5" y="-3.5" width="612.5" height="7"/><use href="#G" x="399.5"/></g>
<g transform="translate(0,15.17)"><use href="#R" x="32"/><use href="#R" x="154.5"/><use href="#R" x="277"/></g>
<g transform="translate(0,30.33)"><use href="#Y" x="52.4"/><use href="#Y" x="174.9"/><use href="#Y" x="297.4"/></g>
<g transform="translate(0,45.5)"><use href="#B" x="72.8"/><use href="#B" x="195.3"/><use href="#B" x="317.8"/></g>
<g transform="translate(0,60.67)"><use href="#O" x="93.3"/><use href="#O" x="215.8"/><use href="#O" x="338.3"/></g>
<rect class="ob" x="32" y="0" width="44.7" height="60.67"/>
<rect class="op" x="76.7" y="0" width="16.6" height="60.67"/>
</g>

<g id="row40" transform="translate(0,5704.67)">
<use href="#gr56"/>
<path d="M154.5 0V60.67M277 0V60.67M399.5 0V60.67M522 0V60.67M644.5 0V60.67M767 0V60.67" stroke="#000"/>
<rect x="32" width="857.5" height="60.67" fill="none" stroke="#000" stroke-width="1.5"/>
<text class="mn" x="32" y="-7.3">164</text><text class="mn" x="154.5" y="-7.3">165</text><text class="mn" x="277" y="-7.3">166</text><text class="mn" x="399.5" y="-7.3">167</text><text class="mn" x="522" y="-7.3">168</text><text class="mn" x="644.5" y="-7.3">169</text><text class="mn" x="767" y="-7.3">170</text>
<text class="p" x="153.5" y="76">24</text><text class="c" x="153.5" y="89.3">163409</text><text class="q" x="153.5" y="102.7">0.00%</text>
<text class="p" x="276" y="76">24</text><text class="c" x="276" y="89.3">163553</text><text class="q" x="276" y="102.7">0.00%</text>
<text class="p" x="398.5" y="76">24</text><text class="c" x="398.5" y="89.3">163697</text><text class="q" x="398.5" y="102.7">0.00%</text>
<text class="p" x="521" y="76">24</text><text class="c" x="521" y="89.3">163841</text><text class="q" x="521" y="102.7">0.00%</text>
<text class="p" x="643.5" y="76">24</text><text class="c" x="643.5" y="89.3">163985</text><text class="q" x="643.5" y="102.7">0.00%</text>
<text class="p" x="766" y="76">24</text><text class="c" x="766" y="89.3">164129</text><text class="q" x="766" y="102.7">0.00%</text>
<text class="p" x="888.5" y="76">12</text><text class="c" x="888.5" y="89.3">164201</text><text class="q" x="888.5" y="102.7">0.00%</text>
<rect class="sg" x="32" y="-3.5" width="796.3" height="7"/>
</g>
</g>
</svg>
